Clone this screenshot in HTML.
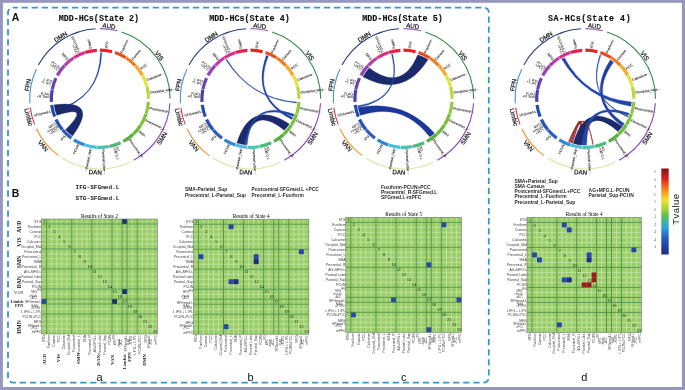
<!DOCTYPE html><html><head><meta charset="utf-8"><style>
html,body{margin:0;padding:0;background:#fff;}
svg{display:block;will-change:transform}
text{font-family:"Liberation Sans",sans-serif;}
.net{font-size:6.2px;fill:#1a1a1a;text-anchor:middle;stroke:#1a1a1a;stroke-width:0.22px}
.reg{font-size:3.7px;fill:#000;}
.ttl{font-family:"Liberation Mono",monospace;font-weight:bold;font-size:8.4px;fill:#111;stroke:#111;stroke-width:0.12px;}
.big{font-weight:bold;font-size:10.5px;fill:#111;}
.pair{font-family:"Liberation Mono",monospace;font-weight:bold;font-size:6.1px;fill:#222;}
.pr{font-size:4.9px;fill:#2a2a2a;font-weight:bold}
.ht{font-family:"Liberation Serif",serif;font-size:5.25px;fill:#000;}
.num{font-family:"Liberation Serif",serif;font-size:4.6px;fill:#1d2f1d;}
.rl{font-size:3.4px;fill:#3a3a3a;}
.nl{font-family:"Liberation Serif",serif;font-weight:bold;font-size:5.6px;fill:#222;}
.pl{font-family:"Liberation Sans",sans-serif;font-size:11px;fill:#111;}
</style></head><body>
<svg width="685" height="390" viewBox="0 0 685 390">
<rect x="0" y="0" width="685" height="390" fill="#9696be"/>
<rect x="2.9" y="2.8" width="679.0" height="384.2" fill="#ffffff"/>
<rect x="8" y="7.6" width="480.8" height="375" rx="5" ry="5" fill="none" stroke="#3c96c9" stroke-width="1.8" stroke-dasharray="6.3 3.78" stroke-dashoffset="1.5"/>
<text x="11.8" y="21.3" class="big">A</text>
<text x="11.8" y="196.8" class="big">B</text>

<text x="98.90" y="20.6" class="ttl" text-anchor="middle">MDD-HCs(State 2)</text>
<text x="249.50" y="20.6" class="ttl" text-anchor="middle">MDD-HCs(State 4)</text>
<text x="402.50" y="20.6" class="ttl" text-anchor="middle">MDD-HCs(State 5)</text>
<text x="548" y="20.6" class="ttl" style="letter-spacing:0.52px">SA-HCs(State 4)</text>
<g><path d="M99.90,28.60 A70.20,70.20 0 0 1 117.36,30.81" fill="none" stroke="#9b59b6" stroke-width="1.1"/><text x="108.82" y="28.16" transform="rotate(7.20 108.82 28.16)" class="net">AUD</text><path d="M121.59,32.04 A70.20,70.20 0 0 1 170.10,98.80" fill="none" stroke="#2e8b45" stroke-width="1.1"/><text x="157.50" y="56.95" transform="rotate(54.00 157.50 56.95)" class="net">VIS</text><path d="M169.96,103.21 A70.20,70.20 0 0 1 133.72,160.32" fill="none" stroke="#8a48c0" stroke-width="1.1"/><text x="163.90" y="139.42" transform="rotate(-57.60 163.90 139.42)" class="net">SMN</text><path d="M129.79,162.32 A70.20,70.20 0 0 1 62.28,158.07" fill="none" stroke="#d6e8a0" stroke-width="1.1"/><text x="95.14" y="174.45" transform="rotate(3.60 95.14 174.45)" class="net">DAN</text><path d="M58.64,155.59 A70.20,70.20 0 0 1 36.38,128.69" fill="none" stroke="#f0902c" stroke-width="1.1"/><text x="41.50" y="147.12" transform="rotate(50.40 41.50 147.12)" class="net">VAN</text><path d="M34.63,124.64 A70.20,70.20 0 0 1 30.25,107.60" fill="none" stroke="#d23a4a" stroke-width="1.1"/><text x="26.48" y="117.65" transform="rotate(75.60 26.48 117.65)" class="net">Limbic</text><path d="M29.84,103.21 A70.20,70.20 0 0 1 36.38,68.91" fill="none" stroke="#4a94d2" stroke-width="1.1"/><text x="29.96" y="85.46" transform="rotate(-79.20 29.96 85.46)" class="net">FPN</text><path d="M38.38,64.98 A70.20,70.20 0 0 1 95.49,28.74" fill="none" stroke="#273c82" stroke-width="1.1"/><text x="61.75" y="38.68" transform="rotate(-32.40 61.75 38.68)" class="net">DMN</text><path d="M99.90,50.20 A48.60,48.60 0 0 1 111.99,51.73" fill="none" stroke="#e62222" stroke-width="3.20"/><path d="M114.92,52.58 A48.60,48.60 0 0 1 125.94,57.77" fill="none" stroke="#e94b1d" stroke-width="3.20"/><path d="M125.94,57.77 A48.60,48.60 0 0 1 135.33,65.53" fill="none" stroke="#f07b1f" stroke-width="3.20"/><path d="M135.33,65.53 A48.60,48.60 0 0 1 142.49,75.39" fill="none" stroke="#f5a92a" stroke-width="3.20"/><path d="M142.49,75.39 A48.60,48.60 0 0 1 146.97,86.71" fill="none" stroke="#e4e23c" stroke-width="3.20"/><path d="M146.97,86.71 A48.60,48.60 0 0 1 148.50,98.80" fill="none" stroke="#b9d83e" stroke-width="3.20"/><path d="M148.40,101.85 A48.60,48.60 0 0 1 146.12,113.82" fill="none" stroke="#8ec93f" stroke-width="3.20"/><path d="M146.12,113.82 A48.60,48.60 0 0 1 140.93,124.84" fill="none" stroke="#79c234" stroke-width="3.20"/><path d="M140.93,124.84 A48.60,48.60 0 0 1 133.17,134.23" fill="none" stroke="#69bb35" stroke-width="3.20"/><path d="M133.17,134.23 A48.60,48.60 0 0 1 123.31,141.39" fill="none" stroke="#58b13f" stroke-width="3.20"/><path d="M120.59,142.77 A48.60,48.60 0 0 1 109.01,146.54" fill="none" stroke="#4dba7c" stroke-width="3.20"/><path d="M109.01,146.54 A48.60,48.60 0 0 1 96.85,147.30" fill="none" stroke="#4dc2b2" stroke-width="3.20"/><path d="M96.85,147.30 A48.60,48.60 0 0 1 84.88,145.02" fill="none" stroke="#45bee0" stroke-width="3.20"/><path d="M84.88,145.02 A48.60,48.60 0 0 1 73.86,139.83" fill="none" stroke="#2f87d3" stroke-width="3.20"/><path d="M71.33,138.12 A48.60,48.60 0 0 1 62.45,129.78" fill="none" stroke="#2b5dbd" stroke-width="3.20"/><path d="M62.45,129.78 A48.60,48.60 0 0 1 55.93,119.49" fill="none" stroke="#2951b5" stroke-width="3.20"/><path d="M54.71,116.69 A48.60,48.60 0 0 1 51.68,104.89" fill="none" stroke="#2649b0" stroke-width="3.20"/><path d="M51.40,101.85 A48.60,48.60 0 0 1 52.16,89.69" fill="none" stroke="#4a40ac" stroke-width="3.20"/><path d="M52.16,89.69 A48.60,48.60 0 0 1 55.93,78.11" fill="none" stroke="#6c42b2" stroke-width="3.20"/><path d="M57.31,75.39 A48.60,48.60 0 0 1 64.47,65.53" fill="none" stroke="#9542b5" stroke-width="3.20"/><path d="M64.47,65.53 A48.60,48.60 0 0 1 73.86,57.77" fill="none" stroke="#bb3ca8" stroke-width="3.20"/><path d="M73.86,57.77 A48.60,48.60 0 0 1 84.88,52.58" fill="none" stroke="#da2b8a" stroke-width="3.20"/><path d="M84.88,52.58 A48.60,48.60 0 0 1 96.85,50.30" fill="none" stroke="#e71f4c" stroke-width="3.20"/><line x1="124.92" y1="59.37" x2="126.96" y2="56.16" stroke="#fff" stroke-width="0.45" stroke-opacity="0.8"/><line x1="133.94" y1="66.83" x2="136.71" y2="64.23" stroke="#fff" stroke-width="0.45" stroke-opacity="0.8"/><line x1="140.82" y1="76.30" x2="144.15" y2="74.47" stroke="#fff" stroke-width="0.45" stroke-opacity="0.8"/><line x1="145.13" y1="87.19" x2="148.81" y2="86.24" stroke="#fff" stroke-width="0.45" stroke-opacity="0.8"/><line x1="144.31" y1="113.23" x2="147.93" y2="114.41" stroke="#fff" stroke-width="0.45" stroke-opacity="0.8"/><line x1="139.33" y1="123.82" x2="142.54" y2="125.86" stroke="#fff" stroke-width="0.45" stroke-opacity="0.8"/><line x1="131.87" y1="132.84" x2="134.47" y2="135.61" stroke="#fff" stroke-width="0.45" stroke-opacity="0.8"/><line x1="108.65" y1="144.67" x2="109.36" y2="148.41" stroke="#fff" stroke-width="0.45" stroke-opacity="0.8"/><line x1="96.97" y1="145.41" x2="96.73" y2="149.20" stroke="#fff" stroke-width="0.45" stroke-opacity="0.8"/><line x1="85.47" y1="143.21" x2="84.29" y2="146.83" stroke="#fff" stroke-width="0.45" stroke-opacity="0.8"/><line x1="63.92" y1="128.57" x2="60.99" y2="130.99" stroke="#fff" stroke-width="0.45" stroke-opacity="0.8"/><line x1="54.03" y1="90.05" x2="50.29" y2="89.34" stroke="#fff" stroke-width="0.45" stroke-opacity="0.8"/><line x1="65.86" y1="66.83" x2="63.09" y2="64.23" stroke="#fff" stroke-width="0.45" stroke-opacity="0.8"/><line x1="74.88" y1="59.37" x2="72.84" y2="56.16" stroke="#fff" stroke-width="0.45" stroke-opacity="0.8"/><line x1="85.47" y1="54.39" x2="84.29" y2="50.77" stroke="#fff" stroke-width="0.45" stroke-opacity="0.8"/><line x1="106.25" y1="48.50" x2="107.09" y2="41.90" stroke="#777" stroke-width="0.35"/><text x="106.23" y="48.70" dy="1.20" transform="rotate(-82.80 106.23 48.70)" text-anchor="start" class="reg">STG</text><line x1="121.49" y1="52.93" x2="128.26" y2="38.54" stroke="#777" stroke-width="0.35"/><text x="121.40" y="53.11" dy="1.20" transform="rotate(-64.80 121.40 53.11)" text-anchor="start" class="reg">Fusiform</text><line x1="132.22" y1="59.73" x2="139.99" y2="50.33" stroke="#777" stroke-width="0.35"/><text x="132.09" y="59.89" dy="1.20" transform="rotate(-50.40 132.09 59.89)" text-anchor="start" class="reg">Cuneus</text><line x1="140.92" y1="69.00" x2="146.30" y2="65.09" stroke="#777" stroke-width="0.35"/><text x="140.76" y="69.12" dy="1.20" transform="rotate(-36.00 140.76 69.12)" text-anchor="start" class="reg">PCC</text><line x1="147.04" y1="80.14" x2="163.54" y2="73.60" stroke="#777" stroke-width="0.35"/><text x="146.85" y="80.21" dy="1.20" transform="rotate(-21.60 146.85 80.21)" text-anchor="start" class="reg">Calcarine</text><line x1="150.20" y1="92.45" x2="175.15" y2="89.29" stroke="#777" stroke-width="0.35"/><text x="150.00" y="92.47" dy="1.20" transform="rotate(-7.20 150.00 92.47)" text-anchor="start" class="reg">Occipital_Mid</text><line x1="149.70" y1="108.30" x2="170.77" y2="112.32" stroke="#777" stroke-width="0.35"/><text x="149.51" y="108.26" dy="1.20" transform="rotate(10.80 149.51 108.26)" text-anchor="start" class="reg">Postcentral</text><line x1="145.77" y1="120.39" x2="166.86" y2="130.31" stroke="#777" stroke-width="0.35"/><text x="145.59" y="120.30" dy="1.20" transform="rotate(25.20 145.59 120.30)" text-anchor="start" class="reg">Precentral_L</text><line x1="138.97" y1="131.12" x2="144.09" y2="135.36" stroke="#777" stroke-width="0.35"/><text x="138.81" y="130.99" dy="1.20" transform="rotate(39.60 138.81 130.99)" text-anchor="start" class="reg">SMA</text><line x1="129.70" y1="139.82" x2="143.40" y2="158.67" stroke="#777" stroke-width="0.35"/><text x="129.58" y="139.66" dy="1.20" transform="rotate(54.00 129.58 139.66)" text-anchor="start" class="reg">Precentral_R</text><text x="115.51" y="146.83" dy="-0.25" transform="rotate(72.00 115.51 146.83)" text-anchor="start" class="reg">AG</text><text x="115.51" y="146.83" dy="2.65" transform="rotate(72.00 115.51 146.83)" text-anchor="start" class="reg">+MFG.L</text><line x1="103.08" y1="149.40" x2="104.66" y2="174.50" stroke="#777" stroke-width="0.35"/><text x="103.07" y="149.20" dy="1.20" transform="rotate(86.40 103.07 149.20)" text-anchor="start" class="reg">Parietal Lobe</text><line x1="90.40" y1="148.60" x2="86.03" y2="171.49" stroke="#777" stroke-width="0.35"/><text x="90.44" y="148.41" dy="1.20" transform="rotate(-79.20 90.44 148.41)" text-anchor="end" class="reg">Parietal_Sup</text><line x1="78.31" y1="144.67" x2="74.69" y2="152.37" stroke="#777" stroke-width="0.35"/><text x="78.40" y="144.49" dy="1.20" transform="rotate(-64.80 78.40 144.49)" text-anchor="end" class="reg">PCUN</text><line x1="65.19" y1="135.76" x2="60.64" y2="140.61" stroke="#777" stroke-width="0.35"/><text x="65.33" y="135.61" dy="1.20" transform="rotate(-46.80 65.33 135.61)" text-anchor="end" class="reg">IFG</text><text x="57.26" y="125.86" dy="-1.70" transform="rotate(-32.40 57.26 125.86)" text-anchor="end" class="reg">MFG</text><text x="57.26" y="125.86" dy="1.20" transform="rotate(-32.40 57.26 125.86)" text-anchor="end" class="reg">+Insula</text><text x="57.26" y="125.86" dy="4.10" transform="rotate(-32.40 57.26 125.86)" text-anchor="end" class="reg">+ACC</text><line x1="50.79" y1="111.41" x2="35.39" y2="115.36" stroke="#777" stroke-width="0.35"/><text x="50.99" y="111.36" dy="1.20" transform="rotate(-14.40 50.99 111.36)" text-anchor="end" class="reg">SFGmed.L</text><text x="49.50" y="95.63" dy="-0.25" transform="rotate(3.60 49.50 95.63)" text-anchor="end" class="reg">R AG</text><text x="49.50" y="95.63" dy="2.65" transform="rotate(3.60 49.50 95.63)" text-anchor="end" class="reg">+R Tem</text><text x="51.87" y="83.19" dy="-0.25" transform="rotate(18.00 51.87 83.19)" text-anchor="end" class="reg">L IFG</text><text x="51.87" y="83.19" dy="2.65" transform="rotate(18.00 51.87 83.19)" text-anchor="end" class="reg">+L IPL</text><text x="59.04" y="69.12" dy="-0.25" transform="rotate(36.00 59.04 69.12)" text-anchor="end" class="reg">PCUN</text><text x="59.04" y="69.12" dy="2.65" transform="rotate(36.00 59.04 69.12)" text-anchor="end" class="reg">+PCC</text><line x1="67.58" y1="59.73" x2="63.34" y2="54.61" stroke="#777" stroke-width="0.35"/><text x="67.71" y="59.89" dy="1.20" transform="rotate(50.40 67.71 59.89)" text-anchor="end" class="reg">MFG</text><text x="78.40" y="53.11" dy="-0.25" transform="rotate(64.80 78.40 53.11)" text-anchor="end" class="reg">SFGmed.L</text><text x="78.40" y="53.11" dy="2.65" transform="rotate(64.80 78.40 53.11)" text-anchor="end" class="reg">+PCC</text><line x1="90.40" y1="49.00" x2="88.81" y2="40.65" stroke="#777" stroke-width="0.35"/><text x="90.44" y="49.19" dy="1.20" transform="rotate(79.20 90.44 49.19)" text-anchor="end" class="reg">mPFC</text><path d="M55.27,110.76 A46.2,46.2 0 0 1 55.03,109.82 Q99.55,98.52 100.55,52.60 A46.2,46.2 0 0 1 101.83,52.64 Q99.90,98.80 55.27,110.76Z" fill="#2242a2" stroke="#2242a2" stroke-width="0.35" fill-opacity="1"/><path d="M56.77,115.36 A46.2,46.2 0 0 1 54.10,104.83 Q99.90,98.80 72.48,135.99 A46.2,46.2 0 0 1 65.57,129.71 Q92.03,103.62 56.77,115.36Z" fill="#1b2a6c" stroke="#1b2a6c" stroke-width="0.35" fill-opacity="1"/></g>
<g><path d="M250.50,28.60 A70.20,70.20 0 0 1 267.96,30.81" fill="none" stroke="#9b59b6" stroke-width="1.1"/><text x="259.42" y="28.16" transform="rotate(7.20 259.42 28.16)" class="net">AUD</text><path d="M272.19,32.04 A70.20,70.20 0 0 1 320.70,98.80" fill="none" stroke="#2e8b45" stroke-width="1.1"/><text x="308.10" y="56.95" transform="rotate(54.00 308.10 56.95)" class="net">VIS</text><path d="M320.56,103.21 A70.20,70.20 0 0 1 284.32,160.32" fill="none" stroke="#8a48c0" stroke-width="1.1"/><text x="314.50" y="139.42" transform="rotate(-57.60 314.50 139.42)" class="net">SMN</text><path d="M280.39,162.32 A70.20,70.20 0 0 1 212.88,158.07" fill="none" stroke="#d6e8a0" stroke-width="1.1"/><text x="245.74" y="174.45" transform="rotate(3.60 245.74 174.45)" class="net">DAN</text><path d="M209.24,155.59 A70.20,70.20 0 0 1 186.98,128.69" fill="none" stroke="#f0902c" stroke-width="1.1"/><text x="192.10" y="147.12" transform="rotate(50.40 192.10 147.12)" class="net">VAN</text><path d="M185.23,124.64 A70.20,70.20 0 0 1 180.85,107.60" fill="none" stroke="#d23a4a" stroke-width="1.1"/><text x="177.08" y="117.65" transform="rotate(75.60 177.08 117.65)" class="net">Limbic</text><path d="M180.44,103.21 A70.20,70.20 0 0 1 186.98,68.91" fill="none" stroke="#4a94d2" stroke-width="1.1"/><text x="180.56" y="85.46" transform="rotate(-79.20 180.56 85.46)" class="net">FPN</text><path d="M188.98,64.98 A70.20,70.20 0 0 1 246.09,28.74" fill="none" stroke="#273c82" stroke-width="1.1"/><text x="212.35" y="38.68" transform="rotate(-32.40 212.35 38.68)" class="net">DMN</text><path d="M250.50,50.20 A48.60,48.60 0 0 1 262.59,51.73" fill="none" stroke="#e62222" stroke-width="3.20"/><path d="M265.52,52.58 A48.60,48.60 0 0 1 276.54,57.77" fill="none" stroke="#e94b1d" stroke-width="3.20"/><path d="M276.54,57.77 A48.60,48.60 0 0 1 285.93,65.53" fill="none" stroke="#f07b1f" stroke-width="3.20"/><path d="M285.93,65.53 A48.60,48.60 0 0 1 293.09,75.39" fill="none" stroke="#f5a92a" stroke-width="3.20"/><path d="M293.09,75.39 A48.60,48.60 0 0 1 297.57,86.71" fill="none" stroke="#e4e23c" stroke-width="3.20"/><path d="M297.57,86.71 A48.60,48.60 0 0 1 299.10,98.80" fill="none" stroke="#b9d83e" stroke-width="3.20"/><path d="M299.00,101.85 A48.60,48.60 0 0 1 296.72,113.82" fill="none" stroke="#8ec93f" stroke-width="3.20"/><path d="M296.72,113.82 A48.60,48.60 0 0 1 291.53,124.84" fill="none" stroke="#79c234" stroke-width="3.20"/><path d="M291.53,124.84 A48.60,48.60 0 0 1 283.77,134.23" fill="none" stroke="#69bb35" stroke-width="3.20"/><path d="M283.77,134.23 A48.60,48.60 0 0 1 273.91,141.39" fill="none" stroke="#58b13f" stroke-width="3.20"/><path d="M271.19,142.77 A48.60,48.60 0 0 1 259.61,146.54" fill="none" stroke="#4dba7c" stroke-width="3.20"/><path d="M259.61,146.54 A48.60,48.60 0 0 1 247.45,147.30" fill="none" stroke="#4dc2b2" stroke-width="3.20"/><path d="M247.45,147.30 A48.60,48.60 0 0 1 235.48,145.02" fill="none" stroke="#45bee0" stroke-width="3.20"/><path d="M235.48,145.02 A48.60,48.60 0 0 1 224.46,139.83" fill="none" stroke="#2f87d3" stroke-width="3.20"/><path d="M221.93,138.12 A48.60,48.60 0 0 1 213.05,129.78" fill="none" stroke="#2b5dbd" stroke-width="3.20"/><path d="M213.05,129.78 A48.60,48.60 0 0 1 206.53,119.49" fill="none" stroke="#2951b5" stroke-width="3.20"/><path d="M205.31,116.69 A48.60,48.60 0 0 1 202.28,104.89" fill="none" stroke="#2649b0" stroke-width="3.20"/><path d="M202.00,101.85 A48.60,48.60 0 0 1 202.76,89.69" fill="none" stroke="#4a40ac" stroke-width="3.20"/><path d="M202.76,89.69 A48.60,48.60 0 0 1 206.53,78.11" fill="none" stroke="#6c42b2" stroke-width="3.20"/><path d="M207.91,75.39 A48.60,48.60 0 0 1 215.07,65.53" fill="none" stroke="#9542b5" stroke-width="3.20"/><path d="M215.07,65.53 A48.60,48.60 0 0 1 224.46,57.77" fill="none" stroke="#bb3ca8" stroke-width="3.20"/><path d="M224.46,57.77 A48.60,48.60 0 0 1 235.48,52.58" fill="none" stroke="#da2b8a" stroke-width="3.20"/><path d="M235.48,52.58 A48.60,48.60 0 0 1 247.45,50.30" fill="none" stroke="#e71f4c" stroke-width="3.20"/><line x1="275.52" y1="59.37" x2="277.56" y2="56.16" stroke="#fff" stroke-width="0.45" stroke-opacity="0.8"/><line x1="284.54" y1="66.83" x2="287.31" y2="64.23" stroke="#fff" stroke-width="0.45" stroke-opacity="0.8"/><line x1="291.42" y1="76.30" x2="294.75" y2="74.47" stroke="#fff" stroke-width="0.45" stroke-opacity="0.8"/><line x1="295.73" y1="87.19" x2="299.41" y2="86.24" stroke="#fff" stroke-width="0.45" stroke-opacity="0.8"/><line x1="294.91" y1="113.23" x2="298.53" y2="114.41" stroke="#fff" stroke-width="0.45" stroke-opacity="0.8"/><line x1="289.93" y1="123.82" x2="293.14" y2="125.86" stroke="#fff" stroke-width="0.45" stroke-opacity="0.8"/><line x1="282.47" y1="132.84" x2="285.07" y2="135.61" stroke="#fff" stroke-width="0.45" stroke-opacity="0.8"/><line x1="259.25" y1="144.67" x2="259.96" y2="148.41" stroke="#fff" stroke-width="0.45" stroke-opacity="0.8"/><line x1="247.57" y1="145.41" x2="247.33" y2="149.20" stroke="#fff" stroke-width="0.45" stroke-opacity="0.8"/><line x1="236.07" y1="143.21" x2="234.89" y2="146.83" stroke="#fff" stroke-width="0.45" stroke-opacity="0.8"/><line x1="214.52" y1="128.57" x2="211.59" y2="130.99" stroke="#fff" stroke-width="0.45" stroke-opacity="0.8"/><line x1="204.63" y1="90.05" x2="200.89" y2="89.34" stroke="#fff" stroke-width="0.45" stroke-opacity="0.8"/><line x1="216.46" y1="66.83" x2="213.69" y2="64.23" stroke="#fff" stroke-width="0.45" stroke-opacity="0.8"/><line x1="225.48" y1="59.37" x2="223.44" y2="56.16" stroke="#fff" stroke-width="0.45" stroke-opacity="0.8"/><line x1="236.07" y1="54.39" x2="234.89" y2="50.77" stroke="#fff" stroke-width="0.45" stroke-opacity="0.8"/><line x1="256.85" y1="48.50" x2="257.69" y2="41.90" stroke="#777" stroke-width="0.35"/><text x="256.83" y="48.70" dy="1.20" transform="rotate(-82.80 256.83 48.70)" text-anchor="start" class="reg">STG</text><line x1="272.09" y1="52.93" x2="278.86" y2="38.54" stroke="#777" stroke-width="0.35"/><text x="272.00" y="53.11" dy="1.20" transform="rotate(-64.80 272.00 53.11)" text-anchor="start" class="reg">Fusiform</text><line x1="282.82" y1="59.73" x2="290.59" y2="50.33" stroke="#777" stroke-width="0.35"/><text x="282.69" y="59.89" dy="1.20" transform="rotate(-50.40 282.69 59.89)" text-anchor="start" class="reg">Cuneus</text><line x1="291.52" y1="69.00" x2="296.90" y2="65.09" stroke="#777" stroke-width="0.35"/><text x="291.36" y="69.12" dy="1.20" transform="rotate(-36.00 291.36 69.12)" text-anchor="start" class="reg">PCC</text><line x1="297.64" y1="80.14" x2="314.14" y2="73.60" stroke="#777" stroke-width="0.35"/><text x="297.45" y="80.21" dy="1.20" transform="rotate(-21.60 297.45 80.21)" text-anchor="start" class="reg">Calcarine</text><line x1="300.80" y1="92.45" x2="325.75" y2="89.29" stroke="#777" stroke-width="0.35"/><text x="300.60" y="92.47" dy="1.20" transform="rotate(-7.20 300.60 92.47)" text-anchor="start" class="reg">Occipital_Mid</text><line x1="300.30" y1="108.30" x2="321.37" y2="112.32" stroke="#777" stroke-width="0.35"/><text x="300.11" y="108.26" dy="1.20" transform="rotate(10.80 300.11 108.26)" text-anchor="start" class="reg">Postcentral</text><line x1="296.37" y1="120.39" x2="317.46" y2="130.31" stroke="#777" stroke-width="0.35"/><text x="296.19" y="120.30" dy="1.20" transform="rotate(25.20 296.19 120.30)" text-anchor="start" class="reg">Precentral_L</text><line x1="289.57" y1="131.12" x2="294.69" y2="135.36" stroke="#777" stroke-width="0.35"/><text x="289.41" y="130.99" dy="1.20" transform="rotate(39.60 289.41 130.99)" text-anchor="start" class="reg">SMA</text><line x1="280.30" y1="139.82" x2="294.00" y2="158.67" stroke="#777" stroke-width="0.35"/><text x="280.18" y="139.66" dy="1.20" transform="rotate(54.00 280.18 139.66)" text-anchor="start" class="reg">Precentral_R</text><text x="266.11" y="146.83" dy="-0.25" transform="rotate(72.00 266.11 146.83)" text-anchor="start" class="reg">AG</text><text x="266.11" y="146.83" dy="2.65" transform="rotate(72.00 266.11 146.83)" text-anchor="start" class="reg">+MFG.L</text><line x1="253.68" y1="149.40" x2="255.26" y2="174.50" stroke="#777" stroke-width="0.35"/><text x="253.67" y="149.20" dy="1.20" transform="rotate(86.40 253.67 149.20)" text-anchor="start" class="reg">Parietal Lobe</text><line x1="241.00" y1="148.60" x2="236.63" y2="171.49" stroke="#777" stroke-width="0.35"/><text x="241.04" y="148.41" dy="1.20" transform="rotate(-79.20 241.04 148.41)" text-anchor="end" class="reg">Parietal_Sup</text><line x1="228.91" y1="144.67" x2="225.29" y2="152.37" stroke="#777" stroke-width="0.35"/><text x="229.00" y="144.49" dy="1.20" transform="rotate(-64.80 229.00 144.49)" text-anchor="end" class="reg">PCUN</text><line x1="215.79" y1="135.76" x2="211.24" y2="140.61" stroke="#777" stroke-width="0.35"/><text x="215.93" y="135.61" dy="1.20" transform="rotate(-46.80 215.93 135.61)" text-anchor="end" class="reg">IFG</text><text x="207.86" y="125.86" dy="-1.70" transform="rotate(-32.40 207.86 125.86)" text-anchor="end" class="reg">MFG</text><text x="207.86" y="125.86" dy="1.20" transform="rotate(-32.40 207.86 125.86)" text-anchor="end" class="reg">+Insula</text><text x="207.86" y="125.86" dy="4.10" transform="rotate(-32.40 207.86 125.86)" text-anchor="end" class="reg">+ACC</text><line x1="201.39" y1="111.41" x2="185.99" y2="115.36" stroke="#777" stroke-width="0.35"/><text x="201.59" y="111.36" dy="1.20" transform="rotate(-14.40 201.59 111.36)" text-anchor="end" class="reg">SFGmed.L</text><text x="200.10" y="95.63" dy="-0.25" transform="rotate(3.60 200.10 95.63)" text-anchor="end" class="reg">R AG</text><text x="200.10" y="95.63" dy="2.65" transform="rotate(3.60 200.10 95.63)" text-anchor="end" class="reg">+R Tem</text><text x="202.47" y="83.19" dy="-0.25" transform="rotate(18.00 202.47 83.19)" text-anchor="end" class="reg">L IFG</text><text x="202.47" y="83.19" dy="2.65" transform="rotate(18.00 202.47 83.19)" text-anchor="end" class="reg">+L IPL</text><text x="209.64" y="69.12" dy="-0.25" transform="rotate(36.00 209.64 69.12)" text-anchor="end" class="reg">PCUN</text><text x="209.64" y="69.12" dy="2.65" transform="rotate(36.00 209.64 69.12)" text-anchor="end" class="reg">+PCC</text><line x1="218.18" y1="59.73" x2="213.94" y2="54.61" stroke="#777" stroke-width="0.35"/><text x="218.31" y="59.89" dy="1.20" transform="rotate(50.40 218.31 59.89)" text-anchor="end" class="reg">MFG</text><text x="229.00" y="53.11" dy="-0.25" transform="rotate(64.80 229.00 53.11)" text-anchor="end" class="reg">SFGmed.L</text><text x="229.00" y="53.11" dy="2.65" transform="rotate(64.80 229.00 53.11)" text-anchor="end" class="reg">+PCC</text><line x1="241.00" y1="49.00" x2="239.41" y2="40.65" stroke="#777" stroke-width="0.35"/><text x="241.04" y="49.19" dy="1.20" transform="rotate(79.20 241.04 49.19)" text-anchor="end" class="reg">mPFC</text><path d="M225.88,59.71 A46.2,46.2 0 0 1 226.71,59.20 Q250.66,98.54 296.59,102.02 A46.2,46.2 0 0 1 296.50,103.07 Q250.50,98.80 225.88,59.71Z" fill="#2242a2" stroke="#2242a2" stroke-width="0.35" fill-opacity="1"/><path d="M266.30,55.39 A46.2,46.2 0 0 1 268.25,56.15 Q251.71,98.32 292.71,117.59 A46.2,46.2 0 0 1 291.85,119.41 Q250.50,98.80 266.30,55.39Z" fill="#2242a2" stroke="#2242a2" stroke-width="0.35" fill-opacity="1"/><path d="M244.87,144.66 A46.2,46.2 0 0 1 236.84,142.93 Q250.50,98.80 289.25,123.96 A46.2,46.2 0 0 1 284.29,130.31 Q252.37,103.93 244.87,144.66Z" fill="#1b2a6c" stroke="#1b2a6c" stroke-width="0.35" fill-opacity="1"/><path d="M247.04,144.87 A46.2,46.2 0 0 1 245.03,144.68 Q250.50,98.80 294.05,114.22 A46.2,46.2 0 0 1 293.18,116.48 Q251.19,99.92 247.04,144.87Z" fill="#2446a8" stroke="#2446a8" stroke-width="0.35" fill-opacity="1"/></g>
<g><path d="M403.50,28.60 A70.20,70.20 0 0 1 420.96,30.81" fill="none" stroke="#9b59b6" stroke-width="1.1"/><text x="412.42" y="28.16" transform="rotate(7.20 412.42 28.16)" class="net">AUD</text><path d="M425.19,32.04 A70.20,70.20 0 0 1 473.70,98.80" fill="none" stroke="#2e8b45" stroke-width="1.1"/><text x="461.10" y="56.95" transform="rotate(54.00 461.10 56.95)" class="net">VIS</text><path d="M473.56,103.21 A70.20,70.20 0 0 1 437.32,160.32" fill="none" stroke="#8a48c0" stroke-width="1.1"/><text x="467.50" y="139.42" transform="rotate(-57.60 467.50 139.42)" class="net">SMN</text><path d="M433.39,162.32 A70.20,70.20 0 0 1 365.88,158.07" fill="none" stroke="#d6e8a0" stroke-width="1.1"/><text x="398.74" y="174.45" transform="rotate(3.60 398.74 174.45)" class="net">DAN</text><path d="M362.24,155.59 A70.20,70.20 0 0 1 339.98,128.69" fill="none" stroke="#f0902c" stroke-width="1.1"/><text x="345.10" y="147.12" transform="rotate(50.40 345.10 147.12)" class="net">VAN</text><path d="M338.23,124.64 A70.20,70.20 0 0 1 333.85,107.60" fill="none" stroke="#d23a4a" stroke-width="1.1"/><text x="330.08" y="117.65" transform="rotate(75.60 330.08 117.65)" class="net">Limbic</text><path d="M333.44,103.21 A70.20,70.20 0 0 1 339.98,68.91" fill="none" stroke="#4a94d2" stroke-width="1.1"/><text x="333.56" y="85.46" transform="rotate(-79.20 333.56 85.46)" class="net">FPN</text><path d="M341.98,64.98 A70.20,70.20 0 0 1 399.09,28.74" fill="none" stroke="#273c82" stroke-width="1.1"/><text x="365.35" y="38.68" transform="rotate(-32.40 365.35 38.68)" class="net">DMN</text><path d="M403.50,50.20 A48.60,48.60 0 0 1 415.59,51.73" fill="none" stroke="#e62222" stroke-width="3.20"/><path d="M418.52,52.58 A48.60,48.60 0 0 1 429.54,57.77" fill="none" stroke="#e94b1d" stroke-width="3.20"/><path d="M429.54,57.77 A48.60,48.60 0 0 1 438.93,65.53" fill="none" stroke="#f07b1f" stroke-width="3.20"/><path d="M438.93,65.53 A48.60,48.60 0 0 1 446.09,75.39" fill="none" stroke="#f5a92a" stroke-width="3.20"/><path d="M446.09,75.39 A48.60,48.60 0 0 1 450.57,86.71" fill="none" stroke="#e4e23c" stroke-width="3.20"/><path d="M450.57,86.71 A48.60,48.60 0 0 1 452.10,98.80" fill="none" stroke="#b9d83e" stroke-width="3.20"/><path d="M452.00,101.85 A48.60,48.60 0 0 1 449.72,113.82" fill="none" stroke="#8ec93f" stroke-width="3.20"/><path d="M449.72,113.82 A48.60,48.60 0 0 1 444.53,124.84" fill="none" stroke="#79c234" stroke-width="3.20"/><path d="M444.53,124.84 A48.60,48.60 0 0 1 436.77,134.23" fill="none" stroke="#69bb35" stroke-width="3.20"/><path d="M436.77,134.23 A48.60,48.60 0 0 1 426.91,141.39" fill="none" stroke="#58b13f" stroke-width="3.20"/><path d="M424.19,142.77 A48.60,48.60 0 0 1 412.61,146.54" fill="none" stroke="#4dba7c" stroke-width="3.20"/><path d="M412.61,146.54 A48.60,48.60 0 0 1 400.45,147.30" fill="none" stroke="#4dc2b2" stroke-width="3.20"/><path d="M400.45,147.30 A48.60,48.60 0 0 1 388.48,145.02" fill="none" stroke="#45bee0" stroke-width="3.20"/><path d="M388.48,145.02 A48.60,48.60 0 0 1 377.46,139.83" fill="none" stroke="#2f87d3" stroke-width="3.20"/><path d="M374.93,138.12 A48.60,48.60 0 0 1 366.05,129.78" fill="none" stroke="#2b5dbd" stroke-width="3.20"/><path d="M366.05,129.78 A48.60,48.60 0 0 1 359.53,119.49" fill="none" stroke="#2951b5" stroke-width="3.20"/><path d="M358.31,116.69 A48.60,48.60 0 0 1 355.28,104.89" fill="none" stroke="#2649b0" stroke-width="3.20"/><path d="M355.00,101.85 A48.60,48.60 0 0 1 355.76,89.69" fill="none" stroke="#4a40ac" stroke-width="3.20"/><path d="M355.76,89.69 A48.60,48.60 0 0 1 359.53,78.11" fill="none" stroke="#6c42b2" stroke-width="3.20"/><path d="M360.91,75.39 A48.60,48.60 0 0 1 368.07,65.53" fill="none" stroke="#9542b5" stroke-width="3.20"/><path d="M368.07,65.53 A48.60,48.60 0 0 1 377.46,57.77" fill="none" stroke="#bb3ca8" stroke-width="3.20"/><path d="M377.46,57.77 A48.60,48.60 0 0 1 388.48,52.58" fill="none" stroke="#da2b8a" stroke-width="3.20"/><path d="M388.48,52.58 A48.60,48.60 0 0 1 400.45,50.30" fill="none" stroke="#e71f4c" stroke-width="3.20"/><line x1="428.52" y1="59.37" x2="430.56" y2="56.16" stroke="#fff" stroke-width="0.45" stroke-opacity="0.8"/><line x1="437.54" y1="66.83" x2="440.31" y2="64.23" stroke="#fff" stroke-width="0.45" stroke-opacity="0.8"/><line x1="444.42" y1="76.30" x2="447.75" y2="74.47" stroke="#fff" stroke-width="0.45" stroke-opacity="0.8"/><line x1="448.73" y1="87.19" x2="452.41" y2="86.24" stroke="#fff" stroke-width="0.45" stroke-opacity="0.8"/><line x1="447.91" y1="113.23" x2="451.53" y2="114.41" stroke="#fff" stroke-width="0.45" stroke-opacity="0.8"/><line x1="442.93" y1="123.82" x2="446.14" y2="125.86" stroke="#fff" stroke-width="0.45" stroke-opacity="0.8"/><line x1="435.47" y1="132.84" x2="438.07" y2="135.61" stroke="#fff" stroke-width="0.45" stroke-opacity="0.8"/><line x1="412.25" y1="144.67" x2="412.96" y2="148.41" stroke="#fff" stroke-width="0.45" stroke-opacity="0.8"/><line x1="400.57" y1="145.41" x2="400.33" y2="149.20" stroke="#fff" stroke-width="0.45" stroke-opacity="0.8"/><line x1="389.07" y1="143.21" x2="387.89" y2="146.83" stroke="#fff" stroke-width="0.45" stroke-opacity="0.8"/><line x1="367.52" y1="128.57" x2="364.59" y2="130.99" stroke="#fff" stroke-width="0.45" stroke-opacity="0.8"/><line x1="357.63" y1="90.05" x2="353.89" y2="89.34" stroke="#fff" stroke-width="0.45" stroke-opacity="0.8"/><line x1="369.46" y1="66.83" x2="366.69" y2="64.23" stroke="#fff" stroke-width="0.45" stroke-opacity="0.8"/><line x1="378.48" y1="59.37" x2="376.44" y2="56.16" stroke="#fff" stroke-width="0.45" stroke-opacity="0.8"/><line x1="389.07" y1="54.39" x2="387.89" y2="50.77" stroke="#fff" stroke-width="0.45" stroke-opacity="0.8"/><line x1="409.85" y1="48.50" x2="410.69" y2="41.90" stroke="#777" stroke-width="0.35"/><text x="409.83" y="48.70" dy="1.20" transform="rotate(-82.80 409.83 48.70)" text-anchor="start" class="reg">STG</text><line x1="425.09" y1="52.93" x2="431.86" y2="38.54" stroke="#777" stroke-width="0.35"/><text x="425.00" y="53.11" dy="1.20" transform="rotate(-64.80 425.00 53.11)" text-anchor="start" class="reg">Fusiform</text><line x1="435.82" y1="59.73" x2="443.59" y2="50.33" stroke="#777" stroke-width="0.35"/><text x="435.69" y="59.89" dy="1.20" transform="rotate(-50.40 435.69 59.89)" text-anchor="start" class="reg">Cuneus</text><line x1="444.52" y1="69.00" x2="449.90" y2="65.09" stroke="#777" stroke-width="0.35"/><text x="444.36" y="69.12" dy="1.20" transform="rotate(-36.00 444.36 69.12)" text-anchor="start" class="reg">PCC</text><line x1="450.64" y1="80.14" x2="467.14" y2="73.60" stroke="#777" stroke-width="0.35"/><text x="450.45" y="80.21" dy="1.20" transform="rotate(-21.60 450.45 80.21)" text-anchor="start" class="reg">Calcarine</text><line x1="453.80" y1="92.45" x2="478.75" y2="89.29" stroke="#777" stroke-width="0.35"/><text x="453.60" y="92.47" dy="1.20" transform="rotate(-7.20 453.60 92.47)" text-anchor="start" class="reg">Occipital_Mid</text><line x1="453.30" y1="108.30" x2="474.37" y2="112.32" stroke="#777" stroke-width="0.35"/><text x="453.11" y="108.26" dy="1.20" transform="rotate(10.80 453.11 108.26)" text-anchor="start" class="reg">Postcentral</text><line x1="449.37" y1="120.39" x2="470.46" y2="130.31" stroke="#777" stroke-width="0.35"/><text x="449.19" y="120.30" dy="1.20" transform="rotate(25.20 449.19 120.30)" text-anchor="start" class="reg">Precentral_L</text><line x1="442.57" y1="131.12" x2="447.69" y2="135.36" stroke="#777" stroke-width="0.35"/><text x="442.41" y="130.99" dy="1.20" transform="rotate(39.60 442.41 130.99)" text-anchor="start" class="reg">SMA</text><line x1="433.30" y1="139.82" x2="447.00" y2="158.67" stroke="#777" stroke-width="0.35"/><text x="433.18" y="139.66" dy="1.20" transform="rotate(54.00 433.18 139.66)" text-anchor="start" class="reg">Precentral_R</text><text x="419.11" y="146.83" dy="-0.25" transform="rotate(72.00 419.11 146.83)" text-anchor="start" class="reg">AG</text><text x="419.11" y="146.83" dy="2.65" transform="rotate(72.00 419.11 146.83)" text-anchor="start" class="reg">+MFG.L</text><line x1="406.68" y1="149.40" x2="408.26" y2="174.50" stroke="#777" stroke-width="0.35"/><text x="406.67" y="149.20" dy="1.20" transform="rotate(86.40 406.67 149.20)" text-anchor="start" class="reg">Parietal Lobe</text><line x1="394.00" y1="148.60" x2="389.63" y2="171.49" stroke="#777" stroke-width="0.35"/><text x="394.04" y="148.41" dy="1.20" transform="rotate(-79.20 394.04 148.41)" text-anchor="end" class="reg">Parietal_Sup</text><line x1="381.91" y1="144.67" x2="378.29" y2="152.37" stroke="#777" stroke-width="0.35"/><text x="382.00" y="144.49" dy="1.20" transform="rotate(-64.80 382.00 144.49)" text-anchor="end" class="reg">PCUN</text><line x1="368.79" y1="135.76" x2="364.24" y2="140.61" stroke="#777" stroke-width="0.35"/><text x="368.93" y="135.61" dy="1.20" transform="rotate(-46.80 368.93 135.61)" text-anchor="end" class="reg">IFG</text><text x="360.86" y="125.86" dy="-1.70" transform="rotate(-32.40 360.86 125.86)" text-anchor="end" class="reg">MFG</text><text x="360.86" y="125.86" dy="1.20" transform="rotate(-32.40 360.86 125.86)" text-anchor="end" class="reg">+Insula</text><text x="360.86" y="125.86" dy="4.10" transform="rotate(-32.40 360.86 125.86)" text-anchor="end" class="reg">+ACC</text><line x1="354.39" y1="111.41" x2="338.99" y2="115.36" stroke="#777" stroke-width="0.35"/><text x="354.59" y="111.36" dy="1.20" transform="rotate(-14.40 354.59 111.36)" text-anchor="end" class="reg">SFGmed.L</text><text x="353.10" y="95.63" dy="-0.25" transform="rotate(3.60 353.10 95.63)" text-anchor="end" class="reg">R AG</text><text x="353.10" y="95.63" dy="2.65" transform="rotate(3.60 353.10 95.63)" text-anchor="end" class="reg">+R Tem</text><text x="355.47" y="83.19" dy="-0.25" transform="rotate(18.00 355.47 83.19)" text-anchor="end" class="reg">L IFG</text><text x="355.47" y="83.19" dy="2.65" transform="rotate(18.00 355.47 83.19)" text-anchor="end" class="reg">+L IPL</text><text x="362.64" y="69.12" dy="-0.25" transform="rotate(36.00 362.64 69.12)" text-anchor="end" class="reg">PCUN</text><text x="362.64" y="69.12" dy="2.65" transform="rotate(36.00 362.64 69.12)" text-anchor="end" class="reg">+PCC</text><line x1="371.18" y1="59.73" x2="366.94" y2="54.61" stroke="#777" stroke-width="0.35"/><text x="371.31" y="59.89" dy="1.20" transform="rotate(50.40 371.31 59.89)" text-anchor="end" class="reg">MFG</text><text x="382.00" y="53.11" dy="-0.25" transform="rotate(64.80 382.00 53.11)" text-anchor="end" class="reg">SFGmed.L</text><text x="382.00" y="53.11" dy="2.65" transform="rotate(64.80 382.00 53.11)" text-anchor="end" class="reg">+PCC</text><line x1="394.00" y1="49.00" x2="392.41" y2="40.65" stroke="#777" stroke-width="0.35"/><text x="394.04" y="49.19" dy="1.20" transform="rotate(79.20 394.04 49.19)" text-anchor="end" class="reg">mPFC</text><path d="M362.90,76.76 A46.2,46.2 0 0 1 369.17,67.89 Q401.89,92.80 417.78,54.86 A46.2,46.2 0 0 1 427.98,59.62 Q403.50,98.80 362.90,76.76Z" fill="#1b2a6c" stroke="#1b2a6c" stroke-width="0.35" fill-opacity="1"/><path d="M358.07,107.22 A46.2,46.2 0 0 1 357.83,105.79 Q402.95,98.44 391.54,54.17 A46.2,46.2 0 0 1 392.56,53.91 Q403.50,98.80 358.07,107.22Z" fill="#2242a2" stroke="#2242a2" stroke-width="0.35" fill-opacity="1"/><path d="M360.37,115.36 A46.2,46.2 0 0 1 358.15,107.62 Q403.50,98.80 434.41,133.13 A46.2,46.2 0 0 1 429.67,136.87 Q402.72,101.30 360.37,115.36Z" fill="#1c379a" stroke="#1c379a" stroke-width="0.35" fill-opacity="1"/></g>
<g><path d="M585.30,28.60 A70.20,70.20 0 0 1 602.76,30.81" fill="none" stroke="#9b59b6" stroke-width="1.1"/><text x="594.22" y="28.16" transform="rotate(7.20 594.22 28.16)" class="net">AUD</text><path d="M606.99,32.04 A70.20,70.20 0 0 1 655.50,98.80" fill="none" stroke="#2e8b45" stroke-width="1.1"/><text x="642.90" y="56.95" transform="rotate(54.00 642.90 56.95)" class="net">VIS</text><path d="M655.36,103.21 A70.20,70.20 0 0 1 619.12,160.32" fill="none" stroke="#8a48c0" stroke-width="1.1"/><text x="649.30" y="139.42" transform="rotate(-57.60 649.30 139.42)" class="net">SMN</text><path d="M615.19,162.32 A70.20,70.20 0 0 1 547.68,158.07" fill="none" stroke="#d6e8a0" stroke-width="1.1"/><text x="580.54" y="174.45" transform="rotate(3.60 580.54 174.45)" class="net">DAN</text><path d="M544.04,155.59 A70.20,70.20 0 0 1 521.78,128.69" fill="none" stroke="#f0902c" stroke-width="1.1"/><text x="526.90" y="147.12" transform="rotate(50.40 526.90 147.12)" class="net">VAN</text><path d="M520.03,124.64 A70.20,70.20 0 0 1 515.65,107.60" fill="none" stroke="#d23a4a" stroke-width="1.1"/><text x="511.88" y="117.65" transform="rotate(75.60 511.88 117.65)" class="net">Limbic</text><path d="M515.24,103.21 A70.20,70.20 0 0 1 521.78,68.91" fill="none" stroke="#4a94d2" stroke-width="1.1"/><text x="515.36" y="85.46" transform="rotate(-79.20 515.36 85.46)" class="net">FPN</text><path d="M523.78,64.98 A70.20,70.20 0 0 1 580.89,28.74" fill="none" stroke="#273c82" stroke-width="1.1"/><text x="547.15" y="38.68" transform="rotate(-32.40 547.15 38.68)" class="net">DMN</text><path d="M585.30,50.20 A48.60,48.60 0 0 1 597.39,51.73" fill="none" stroke="#e62222" stroke-width="3.20"/><path d="M600.32,52.58 A48.60,48.60 0 0 1 611.34,57.77" fill="none" stroke="#e94b1d" stroke-width="3.20"/><path d="M611.34,57.77 A48.60,48.60 0 0 1 620.73,65.53" fill="none" stroke="#f07b1f" stroke-width="3.20"/><path d="M620.73,65.53 A48.60,48.60 0 0 1 627.89,75.39" fill="none" stroke="#f5a92a" stroke-width="3.20"/><path d="M627.89,75.39 A48.60,48.60 0 0 1 632.37,86.71" fill="none" stroke="#e4e23c" stroke-width="3.20"/><path d="M632.37,86.71 A48.60,48.60 0 0 1 633.90,98.80" fill="none" stroke="#b9d83e" stroke-width="3.20"/><path d="M633.80,101.85 A48.60,48.60 0 0 1 631.52,113.82" fill="none" stroke="#8ec93f" stroke-width="3.20"/><path d="M631.52,113.82 A48.60,48.60 0 0 1 626.33,124.84" fill="none" stroke="#79c234" stroke-width="3.20"/><path d="M626.33,124.84 A48.60,48.60 0 0 1 618.57,134.23" fill="none" stroke="#69bb35" stroke-width="3.20"/><path d="M618.57,134.23 A48.60,48.60 0 0 1 608.71,141.39" fill="none" stroke="#58b13f" stroke-width="3.20"/><path d="M605.99,142.77 A48.60,48.60 0 0 1 594.41,146.54" fill="none" stroke="#4dba7c" stroke-width="3.20"/><path d="M594.41,146.54 A48.60,48.60 0 0 1 582.25,147.30" fill="none" stroke="#4dc2b2" stroke-width="3.20"/><path d="M582.25,147.30 A48.60,48.60 0 0 1 570.28,145.02" fill="none" stroke="#45bee0" stroke-width="3.20"/><path d="M570.28,145.02 A48.60,48.60 0 0 1 559.26,139.83" fill="none" stroke="#2f87d3" stroke-width="3.20"/><path d="M556.73,138.12 A48.60,48.60 0 0 1 547.85,129.78" fill="none" stroke="#2b5dbd" stroke-width="3.20"/><path d="M547.85,129.78 A48.60,48.60 0 0 1 541.33,119.49" fill="none" stroke="#2951b5" stroke-width="3.20"/><path d="M540.11,116.69 A48.60,48.60 0 0 1 537.08,104.89" fill="none" stroke="#2649b0" stroke-width="3.20"/><path d="M536.80,101.85 A48.60,48.60 0 0 1 537.56,89.69" fill="none" stroke="#4a40ac" stroke-width="3.20"/><path d="M537.56,89.69 A48.60,48.60 0 0 1 541.33,78.11" fill="none" stroke="#6c42b2" stroke-width="3.20"/><path d="M542.71,75.39 A48.60,48.60 0 0 1 549.87,65.53" fill="none" stroke="#9542b5" stroke-width="3.20"/><path d="M549.87,65.53 A48.60,48.60 0 0 1 559.26,57.77" fill="none" stroke="#bb3ca8" stroke-width="3.20"/><path d="M559.26,57.77 A48.60,48.60 0 0 1 570.28,52.58" fill="none" stroke="#da2b8a" stroke-width="3.20"/><path d="M570.28,52.58 A48.60,48.60 0 0 1 582.25,50.30" fill="none" stroke="#e71f4c" stroke-width="3.20"/><line x1="610.32" y1="59.37" x2="612.36" y2="56.16" stroke="#fff" stroke-width="0.45" stroke-opacity="0.8"/><line x1="619.34" y1="66.83" x2="622.11" y2="64.23" stroke="#fff" stroke-width="0.45" stroke-opacity="0.8"/><line x1="626.22" y1="76.30" x2="629.55" y2="74.47" stroke="#fff" stroke-width="0.45" stroke-opacity="0.8"/><line x1="630.53" y1="87.19" x2="634.21" y2="86.24" stroke="#fff" stroke-width="0.45" stroke-opacity="0.8"/><line x1="629.71" y1="113.23" x2="633.33" y2="114.41" stroke="#fff" stroke-width="0.45" stroke-opacity="0.8"/><line x1="624.73" y1="123.82" x2="627.94" y2="125.86" stroke="#fff" stroke-width="0.45" stroke-opacity="0.8"/><line x1="617.27" y1="132.84" x2="619.87" y2="135.61" stroke="#fff" stroke-width="0.45" stroke-opacity="0.8"/><line x1="594.05" y1="144.67" x2="594.76" y2="148.41" stroke="#fff" stroke-width="0.45" stroke-opacity="0.8"/><line x1="582.37" y1="145.41" x2="582.13" y2="149.20" stroke="#fff" stroke-width="0.45" stroke-opacity="0.8"/><line x1="570.87" y1="143.21" x2="569.69" y2="146.83" stroke="#fff" stroke-width="0.45" stroke-opacity="0.8"/><line x1="549.32" y1="128.57" x2="546.39" y2="130.99" stroke="#fff" stroke-width="0.45" stroke-opacity="0.8"/><line x1="539.43" y1="90.05" x2="535.69" y2="89.34" stroke="#fff" stroke-width="0.45" stroke-opacity="0.8"/><line x1="551.26" y1="66.83" x2="548.49" y2="64.23" stroke="#fff" stroke-width="0.45" stroke-opacity="0.8"/><line x1="560.28" y1="59.37" x2="558.24" y2="56.16" stroke="#fff" stroke-width="0.45" stroke-opacity="0.8"/><line x1="570.87" y1="54.39" x2="569.69" y2="50.77" stroke="#fff" stroke-width="0.45" stroke-opacity="0.8"/><line x1="591.65" y1="48.50" x2="592.49" y2="41.90" stroke="#777" stroke-width="0.35"/><text x="591.63" y="48.70" dy="1.20" transform="rotate(-82.80 591.63 48.70)" text-anchor="start" class="reg">STG</text><line x1="606.89" y1="52.93" x2="613.66" y2="38.54" stroke="#777" stroke-width="0.35"/><text x="606.80" y="53.11" dy="1.20" transform="rotate(-64.80 606.80 53.11)" text-anchor="start" class="reg">Fusiform</text><line x1="617.62" y1="59.73" x2="625.39" y2="50.33" stroke="#777" stroke-width="0.35"/><text x="617.49" y="59.89" dy="1.20" transform="rotate(-50.40 617.49 59.89)" text-anchor="start" class="reg">Cuneus</text><line x1="626.32" y1="69.00" x2="631.70" y2="65.09" stroke="#777" stroke-width="0.35"/><text x="626.16" y="69.12" dy="1.20" transform="rotate(-36.00 626.16 69.12)" text-anchor="start" class="reg">PCC</text><line x1="632.44" y1="80.14" x2="648.94" y2="73.60" stroke="#777" stroke-width="0.35"/><text x="632.25" y="80.21" dy="1.20" transform="rotate(-21.60 632.25 80.21)" text-anchor="start" class="reg">Calcarine</text><line x1="635.60" y1="92.45" x2="660.55" y2="89.29" stroke="#777" stroke-width="0.35"/><text x="635.40" y="92.47" dy="1.20" transform="rotate(-7.20 635.40 92.47)" text-anchor="start" class="reg">Occipital_Mid</text><line x1="635.10" y1="108.30" x2="656.17" y2="112.32" stroke="#777" stroke-width="0.35"/><text x="634.91" y="108.26" dy="1.20" transform="rotate(10.80 634.91 108.26)" text-anchor="start" class="reg">Postcentral</text><line x1="631.17" y1="120.39" x2="652.26" y2="130.31" stroke="#777" stroke-width="0.35"/><text x="630.99" y="120.30" dy="1.20" transform="rotate(25.20 630.99 120.30)" text-anchor="start" class="reg">Precentral_L</text><line x1="624.37" y1="131.12" x2="629.49" y2="135.36" stroke="#777" stroke-width="0.35"/><text x="624.21" y="130.99" dy="1.20" transform="rotate(39.60 624.21 130.99)" text-anchor="start" class="reg">SMA</text><line x1="615.10" y1="139.82" x2="628.80" y2="158.67" stroke="#777" stroke-width="0.35"/><text x="614.98" y="139.66" dy="1.20" transform="rotate(54.00 614.98 139.66)" text-anchor="start" class="reg">Precentral_R</text><text x="600.91" y="146.83" dy="-0.25" transform="rotate(72.00 600.91 146.83)" text-anchor="start" class="reg">AG</text><text x="600.91" y="146.83" dy="2.65" transform="rotate(72.00 600.91 146.83)" text-anchor="start" class="reg">+MFG.L</text><line x1="588.48" y1="149.40" x2="590.06" y2="174.50" stroke="#777" stroke-width="0.35"/><text x="588.47" y="149.20" dy="1.20" transform="rotate(86.40 588.47 149.20)" text-anchor="start" class="reg">Parietal Lobe</text><line x1="575.80" y1="148.60" x2="571.43" y2="171.49" stroke="#777" stroke-width="0.35"/><text x="575.84" y="148.41" dy="1.20" transform="rotate(-79.20 575.84 148.41)" text-anchor="end" class="reg">Parietal_Sup</text><line x1="563.71" y1="144.67" x2="560.09" y2="152.37" stroke="#777" stroke-width="0.35"/><text x="563.80" y="144.49" dy="1.20" transform="rotate(-64.80 563.80 144.49)" text-anchor="end" class="reg">PCUN</text><line x1="550.59" y1="135.76" x2="546.04" y2="140.61" stroke="#777" stroke-width="0.35"/><text x="550.73" y="135.61" dy="1.20" transform="rotate(-46.80 550.73 135.61)" text-anchor="end" class="reg">IFG</text><text x="542.66" y="125.86" dy="-1.70" transform="rotate(-32.40 542.66 125.86)" text-anchor="end" class="reg">MFG</text><text x="542.66" y="125.86" dy="1.20" transform="rotate(-32.40 542.66 125.86)" text-anchor="end" class="reg">+Insula</text><text x="542.66" y="125.86" dy="4.10" transform="rotate(-32.40 542.66 125.86)" text-anchor="end" class="reg">+ACC</text><line x1="536.19" y1="111.41" x2="520.79" y2="115.36" stroke="#777" stroke-width="0.35"/><text x="536.39" y="111.36" dy="1.20" transform="rotate(-14.40 536.39 111.36)" text-anchor="end" class="reg">SFGmed.L</text><text x="534.90" y="95.63" dy="-0.25" transform="rotate(3.60 534.90 95.63)" text-anchor="end" class="reg">R AG</text><text x="534.90" y="95.63" dy="2.65" transform="rotate(3.60 534.90 95.63)" text-anchor="end" class="reg">+R Tem</text><text x="537.27" y="83.19" dy="-0.25" transform="rotate(18.00 537.27 83.19)" text-anchor="end" class="reg">L IFG</text><text x="537.27" y="83.19" dy="2.65" transform="rotate(18.00 537.27 83.19)" text-anchor="end" class="reg">+L IPL</text><text x="544.44" y="69.12" dy="-0.25" transform="rotate(36.00 544.44 69.12)" text-anchor="end" class="reg">PCUN</text><text x="544.44" y="69.12" dy="2.65" transform="rotate(36.00 544.44 69.12)" text-anchor="end" class="reg">+PCC</text><line x1="552.98" y1="59.73" x2="548.74" y2="54.61" stroke="#777" stroke-width="0.35"/><text x="553.11" y="59.89" dy="1.20" transform="rotate(50.40 553.11 59.89)" text-anchor="end" class="reg">MFG</text><text x="563.80" y="53.11" dy="-0.25" transform="rotate(64.80 563.80 53.11)" text-anchor="end" class="reg">SFGmed.L</text><text x="563.80" y="53.11" dy="2.65" transform="rotate(64.80 563.80 53.11)" text-anchor="end" class="reg">+PCC</text><line x1="575.80" y1="49.00" x2="574.21" y2="40.65" stroke="#777" stroke-width="0.35"/><text x="575.84" y="49.19" dy="1.20" transform="rotate(79.20 575.84 49.19)" text-anchor="end" class="reg">mPFC</text><path d="M572.57,143.21 A46.2,46.2 0 0 1 571.87,143.00 Q585.30,98.80 580.47,144.75 A46.2,46.2 0 0 1 579.83,144.68 Q584.96,100.51 572.57,143.21Z" fill="#8e1b1b" stroke="#8e1b1b" stroke-width="0.35" fill-opacity="1"/><path d="M571.33,142.84 A46.2,46.2 0 0 1 570.64,142.61 Q585.30,98.80 579.35,144.62 A46.2,46.2 0 0 1 578.71,144.53 Q584.91,100.49 571.33,142.84Z" fill="#8e1b1b" stroke="#8e1b1b" stroke-width="0.35" fill-opacity="1"/><path d="M570.18,142.46 A46.2,46.2 0 0 1 569.50,142.21 Q585.30,98.80 578.23,144.46 A46.2,46.2 0 0 1 577.60,144.35 Q584.87,100.48 570.18,142.46Z" fill="#8e1b1b" stroke="#8e1b1b" stroke-width="0.35" fill-opacity="1"/><path d="M599.96,54.99 A46.2,46.2 0 0 1 600.80,55.28 Q585.70,98.62 628.14,116.11 A46.2,46.2 0 0 1 627.76,117.00 Q585.30,98.80 599.96,54.99Z" fill="#2242a2" stroke="#2242a2" stroke-width="0.35" fill-opacity="1"/><path d="M610.26,59.92 A46.2,46.2 0 0 1 613.42,62.15 Q587.04,98.49 624.26,123.62 A46.2,46.2 0 0 1 622.44,126.28 Q585.30,98.80 610.26,59.92Z" fill="#1f3fa5" stroke="#1f3fa5" stroke-width="0.35" fill-opacity="1"/><path d="M561.71,59.07 A46.2,46.2 0 0 1 564.33,57.64 Q585.93,97.85 631.39,101.94 A46.2,46.2 0 0 1 630.89,106.27 Q585.30,98.80 561.71,59.07Z" fill="#2444a8" stroke="#2444a8" stroke-width="0.35" fill-opacity="1"/><path d="M582.08,144.89 A46.2,46.2 0 0 1 573.34,143.43 Q585.30,98.80 622.20,126.60 A46.2,46.2 0 0 1 617.97,131.47 Q587.21,103.91 582.08,144.89Z" fill="#1b2a6c" stroke="#1b2a6c" stroke-width="0.35" fill-opacity="1"/><path d="M586.59,144.98 A46.2,46.2 0 0 1 582.08,144.89 Q585.30,98.80 629.16,113.31 A46.2,46.2 0 0 1 628.43,115.36 Q586.49,100.48 586.59,144.98Z" fill="#2446a8" stroke="#2446a8" stroke-width="0.35" fill-opacity="1"/><path d="M569.04,142.05 A46.2,46.2 0 0 1 568.44,141.81 Q585.30,98.80 593.32,144.30 A46.2,46.2 0 0 1 592.69,144.41 Q585.16,100.22 569.04,142.05Z" fill="#9a2020" stroke="#9a2020" stroke-width="0.35" fill-opacity="1"/></g>
<text x="97.5" y="189" class="pair" text-anchor="middle">IFG-SFGmed.L</text>
<text x="97.5" y="199.5" class="pair" text-anchor="middle">STG-SFGmed.L</text>
<text x="185" y="191.3" class="pr">SMA-Parietal_Sup</text><text x="185" y="196.8" class="pr">Precentral_L-Parietal_Sup</text>
<text x="251.6" y="191.3" class="pr">Postcentral-SFGmed.L +PCC</text><text x="251.6" y="196.8" class="pr">Precentral_L-Fusiform</text>
<text x="381" y="188.8" class="pr">Fusiform-PCUN+PCC</text><text x="381" y="194" class="pr">Precentral_R-SFGmed.L</text><text x="381" y="199.2" class="pr">SFGmed.L-mPFC</text>
<text x="514.4" y="182.60" class="pr">SMA+Parietal_Sup</text>
<text x="514.4" y="187.87" class="pr">SMA-Cuneus</text>
<text x="514.4" y="193.14" class="pr">Postcentral-SFGmed.L+PCC</text>
<text x="514.4" y="198.41" class="pr">Precentral_L-Fusiform</text>
<text x="514.4" y="203.68" class="pr">Precentral_L-Parietal_Sup</text>
<text x="588.6" y="192" class="pr">AG+MFG.L-PCUN</text><text x="588.6" y="197.3" class="pr">Parietal_Sup-PCUN</text>
<rect x="41.60" y="219.00" width="115.69" height="115.00" fill="#9bce69"/><line x1="46.63" y1="219.00" x2="46.63" y2="334.00" stroke="#d3edbd" stroke-width="0.6"/><line x1="41.60" y1="224.00" x2="157.29" y2="224.00" stroke="#d3edbd" stroke-width="0.6"/><line x1="51.66" y1="219.00" x2="51.66" y2="334.00" stroke="#d3edbd" stroke-width="0.6"/><line x1="41.60" y1="229.00" x2="157.29" y2="229.00" stroke="#d3edbd" stroke-width="0.6"/><line x1="56.69" y1="219.00" x2="56.69" y2="334.00" stroke="#d3edbd" stroke-width="0.6"/><line x1="41.60" y1="234.00" x2="157.29" y2="234.00" stroke="#d3edbd" stroke-width="0.6"/><line x1="61.72" y1="219.00" x2="61.72" y2="334.00" stroke="#d3edbd" stroke-width="0.6"/><line x1="41.60" y1="239.00" x2="157.29" y2="239.00" stroke="#d3edbd" stroke-width="0.6"/><line x1="66.75" y1="219.00" x2="66.75" y2="334.00" stroke="#d3edbd" stroke-width="0.6"/><line x1="41.60" y1="244.00" x2="157.29" y2="244.00" stroke="#d3edbd" stroke-width="0.6"/><line x1="71.78" y1="219.00" x2="71.78" y2="334.00" stroke="#d3edbd" stroke-width="0.6"/><line x1="41.60" y1="249.00" x2="157.29" y2="249.00" stroke="#d3edbd" stroke-width="0.6"/><line x1="76.81" y1="219.00" x2="76.81" y2="334.00" stroke="#d3edbd" stroke-width="0.6"/><line x1="41.60" y1="254.00" x2="157.29" y2="254.00" stroke="#d3edbd" stroke-width="0.6"/><line x1="81.84" y1="219.00" x2="81.84" y2="334.00" stroke="#d3edbd" stroke-width="0.6"/><line x1="41.60" y1="259.00" x2="157.29" y2="259.00" stroke="#d3edbd" stroke-width="0.6"/><line x1="86.87" y1="219.00" x2="86.87" y2="334.00" stroke="#d3edbd" stroke-width="0.6"/><line x1="41.60" y1="264.00" x2="157.29" y2="264.00" stroke="#d3edbd" stroke-width="0.6"/><line x1="91.90" y1="219.00" x2="91.90" y2="334.00" stroke="#d3edbd" stroke-width="0.6"/><line x1="41.60" y1="269.00" x2="157.29" y2="269.00" stroke="#d3edbd" stroke-width="0.6"/><line x1="96.93" y1="219.00" x2="96.93" y2="334.00" stroke="#d3edbd" stroke-width="0.6"/><line x1="41.60" y1="274.00" x2="157.29" y2="274.00" stroke="#d3edbd" stroke-width="0.6"/><line x1="101.96" y1="219.00" x2="101.96" y2="334.00" stroke="#d3edbd" stroke-width="0.6"/><line x1="41.60" y1="279.00" x2="157.29" y2="279.00" stroke="#d3edbd" stroke-width="0.6"/><line x1="106.99" y1="219.00" x2="106.99" y2="334.00" stroke="#d3edbd" stroke-width="0.6"/><line x1="41.60" y1="284.00" x2="157.29" y2="284.00" stroke="#d3edbd" stroke-width="0.6"/><line x1="112.02" y1="219.00" x2="112.02" y2="334.00" stroke="#d3edbd" stroke-width="0.6"/><line x1="41.60" y1="289.00" x2="157.29" y2="289.00" stroke="#d3edbd" stroke-width="0.6"/><line x1="117.05" y1="219.00" x2="117.05" y2="334.00" stroke="#d3edbd" stroke-width="0.6"/><line x1="41.60" y1="294.00" x2="157.29" y2="294.00" stroke="#d3edbd" stroke-width="0.6"/><line x1="122.08" y1="219.00" x2="122.08" y2="334.00" stroke="#d3edbd" stroke-width="0.6"/><line x1="41.60" y1="299.00" x2="157.29" y2="299.00" stroke="#d3edbd" stroke-width="0.6"/><line x1="127.11" y1="219.00" x2="127.11" y2="334.00" stroke="#d3edbd" stroke-width="0.6"/><line x1="41.60" y1="304.00" x2="157.29" y2="304.00" stroke="#d3edbd" stroke-width="0.6"/><line x1="132.14" y1="219.00" x2="132.14" y2="334.00" stroke="#d3edbd" stroke-width="0.6"/><line x1="41.60" y1="309.00" x2="157.29" y2="309.00" stroke="#d3edbd" stroke-width="0.6"/><line x1="137.17" y1="219.00" x2="137.17" y2="334.00" stroke="#d3edbd" stroke-width="0.6"/><line x1="41.60" y1="314.00" x2="157.29" y2="314.00" stroke="#d3edbd" stroke-width="0.6"/><line x1="142.20" y1="219.00" x2="142.20" y2="334.00" stroke="#d3edbd" stroke-width="0.6"/><line x1="41.60" y1="319.00" x2="157.29" y2="319.00" stroke="#d3edbd" stroke-width="0.6"/><line x1="147.23" y1="219.00" x2="147.23" y2="334.00" stroke="#d3edbd" stroke-width="0.6"/><line x1="41.60" y1="324.00" x2="157.29" y2="324.00" stroke="#d3edbd" stroke-width="0.6"/><line x1="152.26" y1="219.00" x2="152.26" y2="334.00" stroke="#d3edbd" stroke-width="0.6"/><line x1="41.60" y1="329.00" x2="157.29" y2="329.00" stroke="#d3edbd" stroke-width="0.6"/><rect x="122.08" y="219.00" width="5.03" height="5.00" fill="#1e2c7a"/><rect x="41.60" y="299.00" width="5.03" height="5.00" fill="#2747a8"/><rect x="122.08" y="289.00" width="5.03" height="5.00" fill="#1e2c7a"/><rect x="112.02" y="299.00" width="5.03" height="5.00" fill="#1e2c7a"/><line x1="46.63" y1="219.00" x2="46.63" y2="334.00" stroke="#2f8232" stroke-width="0.75"/><line x1="41.60" y1="224.00" x2="157.29" y2="224.00" stroke="#2f8232" stroke-width="0.75"/><line x1="71.78" y1="219.00" x2="71.78" y2="334.00" stroke="#2f8232" stroke-width="0.75"/><line x1="41.60" y1="249.00" x2="157.29" y2="249.00" stroke="#2f8232" stroke-width="0.75"/><line x1="91.90" y1="219.00" x2="91.90" y2="334.00" stroke="#2f8232" stroke-width="0.75"/><line x1="41.60" y1="269.00" x2="157.29" y2="269.00" stroke="#2f8232" stroke-width="0.75"/><line x1="112.02" y1="219.00" x2="112.02" y2="334.00" stroke="#2f8232" stroke-width="0.75"/><line x1="41.60" y1="289.00" x2="157.29" y2="289.00" stroke="#2f8232" stroke-width="0.75"/><line x1="122.08" y1="219.00" x2="122.08" y2="334.00" stroke="#2f8232" stroke-width="0.75"/><line x1="41.60" y1="299.00" x2="157.29" y2="299.00" stroke="#2f8232" stroke-width="0.75"/><line x1="127.11" y1="219.00" x2="127.11" y2="334.00" stroke="#2f8232" stroke-width="0.75"/><line x1="41.60" y1="304.00" x2="157.29" y2="304.00" stroke="#2f8232" stroke-width="0.75"/><line x1="137.17" y1="219.00" x2="137.17" y2="334.00" stroke="#2f8232" stroke-width="0.75"/><line x1="41.60" y1="314.00" x2="157.29" y2="314.00" stroke="#2f8232" stroke-width="0.75"/><rect x="41.60" y="219.00" width="115.69" height="115.00" fill="none" stroke="#6a7a6a" stroke-width="0.6"/><text x="44.40" y="223.10" class="num" text-anchor="middle">1</text><text x="49.43" y="228.10" class="num" text-anchor="middle">2</text><text x="54.46" y="233.10" class="num" text-anchor="middle">3</text><text x="59.49" y="238.10" class="num" text-anchor="middle">4</text><text x="64.52" y="243.10" class="num" text-anchor="middle">5</text><text x="69.55" y="248.10" class="num" text-anchor="middle">6</text><text x="74.58" y="253.10" class="num" text-anchor="middle">7</text><text x="79.61" y="258.10" class="num" text-anchor="middle">8</text><text x="84.64" y="263.10" class="num" text-anchor="middle">9</text><text x="89.67" y="268.10" class="num" text-anchor="middle">10</text><text x="94.70" y="273.10" class="num" text-anchor="middle">11</text><text x="99.73" y="278.10" class="num" text-anchor="middle">12</text><text x="104.76" y="283.10" class="num" text-anchor="middle">13</text><text x="109.79" y="288.10" class="num" text-anchor="middle">14</text><text x="114.82" y="293.10" class="num" text-anchor="middle">15</text><text x="119.85" y="298.10" class="num" text-anchor="middle">16</text><text x="124.88" y="303.10" class="num" text-anchor="middle">17</text><text x="129.91" y="308.10" class="num" text-anchor="middle">18</text><text x="134.94" y="313.10" class="num" text-anchor="middle">19</text><text x="139.97" y="318.10" class="num" text-anchor="middle">20</text><text x="145.00" y="323.10" class="num" text-anchor="middle">21</text><text x="150.03" y="328.10" class="num" text-anchor="middle">22</text><text x="155.06" y="333.10" class="num" text-anchor="middle">23</text><text x="99.45" y="217.60" class="ht" text-anchor="middle">Results of State 2</text><text x="41.30" y="222.66" class="rl" style="font-size:3.4px" text-anchor="end">STG</text><text x="41.30" y="227.66" class="rl" style="font-size:3.4px" text-anchor="end">Fusiform</text><text x="41.30" y="232.66" class="rl" style="font-size:3.4px" text-anchor="end">Cuneus</text><text x="41.30" y="237.66" class="rl" style="font-size:3.4px" text-anchor="end">PCC</text><text x="41.30" y="242.66" class="rl" style="font-size:3.4px" text-anchor="end">Calcarine</text><text x="41.30" y="247.66" class="rl" style="font-size:3.4px" text-anchor="end">Occipital_Mid</text><text x="41.30" y="252.66" class="rl" style="font-size:3.4px" text-anchor="end">Postcentral</text><text x="41.30" y="257.66" class="rl" style="font-size:3.4px" text-anchor="end">Precentral_L</text><text x="41.30" y="262.66" class="rl" style="font-size:3.4px" text-anchor="end">SMA</text><text x="41.30" y="267.66" class="rl" style="font-size:3.4px" text-anchor="end">Precentral_R</text><text x="41.30" y="272.66" class="rl" style="font-size:3.4px" text-anchor="end">AG+MFG.L</text><text x="41.30" y="277.66" class="rl" style="font-size:3.4px" text-anchor="end">Parietal Lobe</text><text x="41.30" y="282.66" class="rl" style="font-size:3.4px" text-anchor="end">Parietal_Sup</text><text x="41.30" y="287.66" class="rl" style="font-size:3.4px" text-anchor="end">PCUN</text><text x="41.30" y="291.48" class="rl" style="font-size:2.6px" text-anchor="end">IFG</text><text x="36.90" y="293.28" class="rl" style="font-size:2.6px" text-anchor="end">MFG</text><text x="37.30" y="296.78" class="rl" style="font-size:2.6px" text-anchor="end">+Insula</text><text x="37.30" y="299.28" class="rl" style="font-size:2.6px" text-anchor="end">+ACC</text><text x="41.30" y="303.46" class="rl" style="font-size:3.4px" text-anchor="end">SFGmed.L</text><text x="37.70" y="306.88" class="rl" style="font-size:2.6px" text-anchor="end">R AG</text><text x="40.30" y="309.08" class="rl" style="font-size:2.6px" text-anchor="end">+R SFG</text><text x="41.30" y="313.26" class="rl" style="font-size:3.4px" text-anchor="end">L IFG + L IPL</text><text x="41.30" y="317.66" class="rl" style="font-size:3.4px" text-anchor="end">PCUN+PCC</text><text x="41.30" y="323.46" class="rl" style="font-size:3.4px" text-anchor="end">MFG</text><text x="41.30" y="326.85" class="rl" style="font-size:2.8px" text-anchor="end">SFGmed.L</text><text x="37.70" y="329.18" class="rl" style="font-size:2.6px" text-anchor="end">+PCC</text><text x="41.30" y="333.46" class="rl" style="font-size:3.4px" text-anchor="end">mPFC</text><text x="45.27" y="335.00" class="rl" style="font-size:3.4px" text-anchor="end" transform="rotate(-90 45.27 335.00)">STG</text><text x="50.30" y="335.00" class="rl" style="font-size:3.4px" text-anchor="end" transform="rotate(-90 50.30 335.00)">Fusiform</text><text x="55.33" y="335.00" class="rl" style="font-size:3.4px" text-anchor="end" transform="rotate(-90 55.33 335.00)">Cuneus</text><text x="60.36" y="335.00" class="rl" style="font-size:3.4px" text-anchor="end" transform="rotate(-90 60.36 335.00)">PCC</text><text x="65.39" y="335.00" class="rl" style="font-size:3.4px" text-anchor="end" transform="rotate(-90 65.39 335.00)">Calcarine</text><text x="70.42" y="335.00" class="rl" style="font-size:3.4px" text-anchor="end" transform="rotate(-90 70.42 335.00)">Occipital_Mid</text><text x="75.45" y="335.00" class="rl" style="font-size:3.4px" text-anchor="end" transform="rotate(-90 75.45 335.00)">Postcentral</text><text x="80.48" y="335.00" class="rl" style="font-size:3.4px" text-anchor="end" transform="rotate(-90 80.48 335.00)">Precentral_L</text><text x="85.51" y="335.00" class="rl" style="font-size:3.4px" text-anchor="end" transform="rotate(-90 85.51 335.00)">SMA</text><text x="90.54" y="335.00" class="rl" style="font-size:3.4px" text-anchor="end" transform="rotate(-90 90.54 335.00)">Precentral_R</text><text x="95.57" y="335.00" class="rl" style="font-size:3.4px" text-anchor="end" transform="rotate(-90 95.57 335.00)">AG+MFG.L</text><text x="100.60" y="335.00" class="rl" style="font-size:3.4px" text-anchor="end" transform="rotate(-90 100.60 335.00)">Parietal Lobe</text><text x="105.63" y="335.00" class="rl" style="font-size:3.4px" text-anchor="end" transform="rotate(-90 105.63 335.00)">Parietal_Sup</text><text x="110.66" y="335.00" class="rl" style="font-size:3.4px" text-anchor="end" transform="rotate(-90 110.66 335.00)">PCUN</text><text x="114.52" y="335.00" class="rl" style="font-size:2.6px" text-anchor="end" transform="rotate(-90 114.52 335.00)">IFG</text><text x="116.32" y="339.40" class="rl" style="font-size:2.6px" text-anchor="end" transform="rotate(-90 116.32 339.40)">MFG</text><text x="119.85" y="339.00" class="rl" style="font-size:2.6px" text-anchor="end" transform="rotate(-90 119.85 339.00)">+Insula</text><text x="122.35" y="339.00" class="rl" style="font-size:2.6px" text-anchor="end" transform="rotate(-90 122.35 339.00)">+ACC</text><text x="126.55" y="335.00" class="rl" style="font-size:3.4px" text-anchor="end" transform="rotate(-90 126.55 335.00)">SFGmed.L</text><text x="130.01" y="338.60" class="rl" style="font-size:2.6px" text-anchor="end" transform="rotate(-90 130.01 338.60)">R AG</text><text x="132.21" y="336.00" class="rl" style="font-size:2.6px" text-anchor="end" transform="rotate(-90 132.21 336.00)">+R SFG</text><text x="136.41" y="335.00" class="rl" style="font-size:3.4px" text-anchor="end" transform="rotate(-90 136.41 335.00)">L IFG + L IPL</text><text x="140.84" y="335.00" class="rl" style="font-size:3.4px" text-anchor="end" transform="rotate(-90 140.84 335.00)">PCUN+PCC</text><text x="146.67" y="335.00" class="rl" style="font-size:3.4px" text-anchor="end" transform="rotate(-90 146.67 335.00)">MFG</text><text x="150.10" y="335.00" class="rl" style="font-size:2.8px" text-anchor="end" transform="rotate(-90 150.10 335.00)">SFGmed.L</text><text x="152.43" y="338.60" class="rl" style="font-size:2.6px" text-anchor="end" transform="rotate(-90 152.43 338.60)">+PCC</text><text x="156.73" y="335.00" class="rl" style="font-size:3.4px" text-anchor="end" transform="rotate(-90 156.73 335.00)">mPFC</text>
<rect x="193.40" y="219.20" width="115.46" height="115.00" fill="#9bce69"/><line x1="198.42" y1="219.20" x2="198.42" y2="334.20" stroke="#d3edbd" stroke-width="0.6"/><line x1="193.40" y1="224.20" x2="308.86" y2="224.20" stroke="#d3edbd" stroke-width="0.6"/><line x1="203.44" y1="219.20" x2="203.44" y2="334.20" stroke="#d3edbd" stroke-width="0.6"/><line x1="193.40" y1="229.20" x2="308.86" y2="229.20" stroke="#d3edbd" stroke-width="0.6"/><line x1="208.46" y1="219.20" x2="208.46" y2="334.20" stroke="#d3edbd" stroke-width="0.6"/><line x1="193.40" y1="234.20" x2="308.86" y2="234.20" stroke="#d3edbd" stroke-width="0.6"/><line x1="213.48" y1="219.20" x2="213.48" y2="334.20" stroke="#d3edbd" stroke-width="0.6"/><line x1="193.40" y1="239.20" x2="308.86" y2="239.20" stroke="#d3edbd" stroke-width="0.6"/><line x1="218.50" y1="219.20" x2="218.50" y2="334.20" stroke="#d3edbd" stroke-width="0.6"/><line x1="193.40" y1="244.20" x2="308.86" y2="244.20" stroke="#d3edbd" stroke-width="0.6"/><line x1="223.52" y1="219.20" x2="223.52" y2="334.20" stroke="#d3edbd" stroke-width="0.6"/><line x1="193.40" y1="249.20" x2="308.86" y2="249.20" stroke="#d3edbd" stroke-width="0.6"/><line x1="228.54" y1="219.20" x2="228.54" y2="334.20" stroke="#d3edbd" stroke-width="0.6"/><line x1="193.40" y1="254.20" x2="308.86" y2="254.20" stroke="#d3edbd" stroke-width="0.6"/><line x1="233.56" y1="219.20" x2="233.56" y2="334.20" stroke="#d3edbd" stroke-width="0.6"/><line x1="193.40" y1="259.20" x2="308.86" y2="259.20" stroke="#d3edbd" stroke-width="0.6"/><line x1="238.58" y1="219.20" x2="238.58" y2="334.20" stroke="#d3edbd" stroke-width="0.6"/><line x1="193.40" y1="264.20" x2="308.86" y2="264.20" stroke="#d3edbd" stroke-width="0.6"/><line x1="243.60" y1="219.20" x2="243.60" y2="334.20" stroke="#d3edbd" stroke-width="0.6"/><line x1="193.40" y1="269.20" x2="308.86" y2="269.20" stroke="#d3edbd" stroke-width="0.6"/><line x1="248.62" y1="219.20" x2="248.62" y2="334.20" stroke="#d3edbd" stroke-width="0.6"/><line x1="193.40" y1="274.20" x2="308.86" y2="274.20" stroke="#d3edbd" stroke-width="0.6"/><line x1="253.64" y1="219.20" x2="253.64" y2="334.20" stroke="#d3edbd" stroke-width="0.6"/><line x1="193.40" y1="279.20" x2="308.86" y2="279.20" stroke="#d3edbd" stroke-width="0.6"/><line x1="258.66" y1="219.20" x2="258.66" y2="334.20" stroke="#d3edbd" stroke-width="0.6"/><line x1="193.40" y1="284.20" x2="308.86" y2="284.20" stroke="#d3edbd" stroke-width="0.6"/><line x1="263.68" y1="219.20" x2="263.68" y2="334.20" stroke="#d3edbd" stroke-width="0.6"/><line x1="193.40" y1="289.20" x2="308.86" y2="289.20" stroke="#d3edbd" stroke-width="0.6"/><line x1="268.70" y1="219.20" x2="268.70" y2="334.20" stroke="#d3edbd" stroke-width="0.6"/><line x1="193.40" y1="294.20" x2="308.86" y2="294.20" stroke="#d3edbd" stroke-width="0.6"/><line x1="273.72" y1="219.20" x2="273.72" y2="334.20" stroke="#d3edbd" stroke-width="0.6"/><line x1="193.40" y1="299.20" x2="308.86" y2="299.20" stroke="#d3edbd" stroke-width="0.6"/><line x1="278.74" y1="219.20" x2="278.74" y2="334.20" stroke="#d3edbd" stroke-width="0.6"/><line x1="193.40" y1="304.20" x2="308.86" y2="304.20" stroke="#d3edbd" stroke-width="0.6"/><line x1="283.76" y1="219.20" x2="283.76" y2="334.20" stroke="#d3edbd" stroke-width="0.6"/><line x1="193.40" y1="309.20" x2="308.86" y2="309.20" stroke="#d3edbd" stroke-width="0.6"/><line x1="288.78" y1="219.20" x2="288.78" y2="334.20" stroke="#d3edbd" stroke-width="0.6"/><line x1="193.40" y1="314.20" x2="308.86" y2="314.20" stroke="#d3edbd" stroke-width="0.6"/><line x1="293.80" y1="219.20" x2="293.80" y2="334.20" stroke="#d3edbd" stroke-width="0.6"/><line x1="193.40" y1="319.20" x2="308.86" y2="319.20" stroke="#d3edbd" stroke-width="0.6"/><line x1="298.82" y1="219.20" x2="298.82" y2="334.20" stroke="#d3edbd" stroke-width="0.6"/><line x1="193.40" y1="324.20" x2="308.86" y2="324.20" stroke="#d3edbd" stroke-width="0.6"/><line x1="303.84" y1="219.20" x2="303.84" y2="334.20" stroke="#d3edbd" stroke-width="0.6"/><line x1="193.40" y1="329.20" x2="308.86" y2="329.20" stroke="#d3edbd" stroke-width="0.6"/><rect x="228.54" y="224.20" width="5.02" height="5.00" fill="#2747a8"/><rect x="198.42" y="254.20" width="5.02" height="5.00" fill="#2747a8"/><rect x="298.82" y="249.20" width="5.02" height="5.00" fill="#2747a8"/><rect x="223.52" y="324.20" width="5.02" height="5.00" fill="#2747a8"/><rect x="253.64" y="254.20" width="5.02" height="5.00" fill="#2747a8"/><rect x="253.64" y="259.20" width="5.02" height="5.00" fill="#1e2c7a"/><rect x="228.54" y="279.20" width="5.02" height="5.00" fill="#2747a8"/><rect x="233.56" y="279.20" width="5.02" height="5.00" fill="#1e2c7a"/><line x1="198.42" y1="219.20" x2="198.42" y2="334.20" stroke="#2f8232" stroke-width="0.75"/><line x1="193.40" y1="224.20" x2="308.86" y2="224.20" stroke="#2f8232" stroke-width="0.75"/><line x1="223.52" y1="219.20" x2="223.52" y2="334.20" stroke="#2f8232" stroke-width="0.75"/><line x1="193.40" y1="249.20" x2="308.86" y2="249.20" stroke="#2f8232" stroke-width="0.75"/><line x1="243.60" y1="219.20" x2="243.60" y2="334.20" stroke="#2f8232" stroke-width="0.75"/><line x1="193.40" y1="269.20" x2="308.86" y2="269.20" stroke="#2f8232" stroke-width="0.75"/><line x1="263.68" y1="219.20" x2="263.68" y2="334.20" stroke="#2f8232" stroke-width="0.75"/><line x1="193.40" y1="289.20" x2="308.86" y2="289.20" stroke="#2f8232" stroke-width="0.75"/><line x1="273.72" y1="219.20" x2="273.72" y2="334.20" stroke="#2f8232" stroke-width="0.75"/><line x1="193.40" y1="299.20" x2="308.86" y2="299.20" stroke="#2f8232" stroke-width="0.75"/><line x1="278.74" y1="219.20" x2="278.74" y2="334.20" stroke="#2f8232" stroke-width="0.75"/><line x1="193.40" y1="304.20" x2="308.86" y2="304.20" stroke="#2f8232" stroke-width="0.75"/><line x1="288.78" y1="219.20" x2="288.78" y2="334.20" stroke="#2f8232" stroke-width="0.75"/><line x1="193.40" y1="314.20" x2="308.86" y2="314.20" stroke="#2f8232" stroke-width="0.75"/><rect x="193.40" y="219.20" width="115.46" height="115.00" fill="none" stroke="#6a7a6a" stroke-width="0.6"/><text x="196.20" y="223.30" class="num" text-anchor="middle">1</text><text x="201.22" y="228.30" class="num" text-anchor="middle">2</text><text x="206.24" y="233.30" class="num" text-anchor="middle">3</text><text x="211.26" y="238.30" class="num" text-anchor="middle">4</text><text x="216.28" y="243.30" class="num" text-anchor="middle">5</text><text x="221.30" y="248.30" class="num" text-anchor="middle">6</text><text x="226.32" y="253.30" class="num" text-anchor="middle">7</text><text x="231.34" y="258.30" class="num" text-anchor="middle">8</text><text x="236.36" y="263.30" class="num" text-anchor="middle">9</text><text x="241.38" y="268.30" class="num" text-anchor="middle">10</text><text x="246.40" y="273.30" class="num" text-anchor="middle">11</text><text x="251.42" y="278.30" class="num" text-anchor="middle">12</text><text x="256.44" y="283.30" class="num" text-anchor="middle">13</text><text x="261.46" y="288.30" class="num" text-anchor="middle">14</text><text x="266.48" y="293.30" class="num" text-anchor="middle">15</text><text x="271.50" y="298.30" class="num" text-anchor="middle">16</text><text x="276.52" y="303.30" class="num" text-anchor="middle">17</text><text x="281.54" y="308.30" class="num" text-anchor="middle">18</text><text x="286.56" y="313.30" class="num" text-anchor="middle">19</text><text x="291.58" y="318.30" class="num" text-anchor="middle">20</text><text x="296.60" y="323.30" class="num" text-anchor="middle">21</text><text x="301.62" y="328.30" class="num" text-anchor="middle">22</text><text x="306.64" y="333.30" class="num" text-anchor="middle">23</text><text x="251.13" y="217.80" class="ht" text-anchor="middle">Results of State 4</text><text x="193.10" y="222.86" class="rl" style="font-size:3.4px" text-anchor="end">STG</text><text x="193.10" y="227.86" class="rl" style="font-size:3.4px" text-anchor="end">Fusiform</text><text x="193.10" y="232.86" class="rl" style="font-size:3.4px" text-anchor="end">Cuneus</text><text x="193.10" y="237.86" class="rl" style="font-size:3.4px" text-anchor="end">PCC</text><text x="193.10" y="242.86" class="rl" style="font-size:3.4px" text-anchor="end">Calcarine</text><text x="193.10" y="247.86" class="rl" style="font-size:3.4px" text-anchor="end">Occipital_Mid</text><text x="193.10" y="252.86" class="rl" style="font-size:3.4px" text-anchor="end">Postcentral</text><text x="193.10" y="257.86" class="rl" style="font-size:3.4px" text-anchor="end">Precentral_L</text><text x="193.10" y="262.86" class="rl" style="font-size:3.4px" text-anchor="end">SMA</text><text x="193.10" y="267.86" class="rl" style="font-size:3.4px" text-anchor="end">Precentral_R</text><text x="193.10" y="272.86" class="rl" style="font-size:3.4px" text-anchor="end">AG+MFG.L</text><text x="193.10" y="277.86" class="rl" style="font-size:3.4px" text-anchor="end">Parietal Lobe</text><text x="193.10" y="282.86" class="rl" style="font-size:3.4px" text-anchor="end">Parietal_Sup</text><text x="193.10" y="287.86" class="rl" style="font-size:3.4px" text-anchor="end">PCUN</text><text x="193.10" y="291.68" class="rl" style="font-size:2.6px" text-anchor="end">IFG</text><text x="188.70" y="293.48" class="rl" style="font-size:2.6px" text-anchor="end">MFG</text><text x="189.10" y="296.98" class="rl" style="font-size:2.6px" text-anchor="end">+Insula</text><text x="189.10" y="299.48" class="rl" style="font-size:2.6px" text-anchor="end">+ACC</text><text x="193.10" y="303.66" class="rl" style="font-size:3.4px" text-anchor="end">SFGmed.L</text><text x="189.50" y="307.08" class="rl" style="font-size:2.6px" text-anchor="end">R AG</text><text x="192.10" y="309.28" class="rl" style="font-size:2.6px" text-anchor="end">+R SFG</text><text x="193.10" y="313.46" class="rl" style="font-size:3.4px" text-anchor="end">L IFG + L IPL</text><text x="193.10" y="317.86" class="rl" style="font-size:3.4px" text-anchor="end">PCUN+PCC</text><text x="193.10" y="323.66" class="rl" style="font-size:3.4px" text-anchor="end">MFG</text><text x="193.10" y="327.05" class="rl" style="font-size:2.8px" text-anchor="end">SFGmed.L</text><text x="189.50" y="329.38" class="rl" style="font-size:2.6px" text-anchor="end">+PCC</text><text x="193.10" y="333.66" class="rl" style="font-size:3.4px" text-anchor="end">mPFC</text><text x="197.07" y="335.20" class="rl" style="font-size:3.4px" text-anchor="end" transform="rotate(-90 197.07 335.20)">STG</text><text x="202.09" y="335.20" class="rl" style="font-size:3.4px" text-anchor="end" transform="rotate(-90 202.09 335.20)">Fusiform</text><text x="207.11" y="335.20" class="rl" style="font-size:3.4px" text-anchor="end" transform="rotate(-90 207.11 335.20)">Cuneus</text><text x="212.13" y="335.20" class="rl" style="font-size:3.4px" text-anchor="end" transform="rotate(-90 212.13 335.20)">PCC</text><text x="217.15" y="335.20" class="rl" style="font-size:3.4px" text-anchor="end" transform="rotate(-90 217.15 335.20)">Calcarine</text><text x="222.17" y="335.20" class="rl" style="font-size:3.4px" text-anchor="end" transform="rotate(-90 222.17 335.20)">Occipital_Mid</text><text x="227.19" y="335.20" class="rl" style="font-size:3.4px" text-anchor="end" transform="rotate(-90 227.19 335.20)">Postcentral</text><text x="232.21" y="335.20" class="rl" style="font-size:3.4px" text-anchor="end" transform="rotate(-90 232.21 335.20)">Precentral_L</text><text x="237.23" y="335.20" class="rl" style="font-size:3.4px" text-anchor="end" transform="rotate(-90 237.23 335.20)">SMA</text><text x="242.25" y="335.20" class="rl" style="font-size:3.4px" text-anchor="end" transform="rotate(-90 242.25 335.20)">Precentral_R</text><text x="247.27" y="335.20" class="rl" style="font-size:3.4px" text-anchor="end" transform="rotate(-90 247.27 335.20)">AG+MFG.L</text><text x="252.29" y="335.20" class="rl" style="font-size:3.4px" text-anchor="end" transform="rotate(-90 252.29 335.20)">Parietal Lobe</text><text x="257.31" y="335.20" class="rl" style="font-size:3.4px" text-anchor="end" transform="rotate(-90 257.31 335.20)">Parietal_Sup</text><text x="262.33" y="335.20" class="rl" style="font-size:3.4px" text-anchor="end" transform="rotate(-90 262.33 335.20)">PCUN</text><text x="266.17" y="335.20" class="rl" style="font-size:2.6px" text-anchor="end" transform="rotate(-90 266.17 335.20)">IFG</text><text x="267.97" y="339.60" class="rl" style="font-size:2.6px" text-anchor="end" transform="rotate(-90 267.97 339.60)">MFG</text><text x="271.49" y="339.20" class="rl" style="font-size:2.6px" text-anchor="end" transform="rotate(-90 271.49 339.20)">+Insula</text><text x="273.99" y="339.20" class="rl" style="font-size:2.6px" text-anchor="end" transform="rotate(-90 273.99 339.20)">+ACC</text><text x="278.19" y="335.20" class="rl" style="font-size:3.4px" text-anchor="end" transform="rotate(-90 278.19 335.20)">SFGmed.L</text><text x="281.63" y="338.80" class="rl" style="font-size:2.6px" text-anchor="end" transform="rotate(-90 281.63 338.80)">R AG</text><text x="283.83" y="336.20" class="rl" style="font-size:2.6px" text-anchor="end" transform="rotate(-90 283.83 336.20)">+R SFG</text><text x="288.03" y="335.20" class="rl" style="font-size:3.4px" text-anchor="end" transform="rotate(-90 288.03 335.20)">L IFG + L IPL</text><text x="292.45" y="335.20" class="rl" style="font-size:3.4px" text-anchor="end" transform="rotate(-90 292.45 335.20)">PCUN+PCC</text><text x="298.27" y="335.20" class="rl" style="font-size:3.4px" text-anchor="end" transform="rotate(-90 298.27 335.20)">MFG</text><text x="301.68" y="335.20" class="rl" style="font-size:2.8px" text-anchor="end" transform="rotate(-90 301.68 335.20)">SFGmed.L</text><text x="304.01" y="338.80" class="rl" style="font-size:2.6px" text-anchor="end" transform="rotate(-90 304.01 338.80)">+PCC</text><text x="308.31" y="335.20" class="rl" style="font-size:3.4px" text-anchor="end" transform="rotate(-90 308.31 335.20)">mPFC</text>
<rect x="345.80" y="217.30" width="115.69" height="115.00" fill="#9bce69"/><line x1="350.83" y1="217.30" x2="350.83" y2="332.30" stroke="#d3edbd" stroke-width="0.6"/><line x1="345.80" y1="222.30" x2="461.49" y2="222.30" stroke="#d3edbd" stroke-width="0.6"/><line x1="355.86" y1="217.30" x2="355.86" y2="332.30" stroke="#d3edbd" stroke-width="0.6"/><line x1="345.80" y1="227.30" x2="461.49" y2="227.30" stroke="#d3edbd" stroke-width="0.6"/><line x1="360.89" y1="217.30" x2="360.89" y2="332.30" stroke="#d3edbd" stroke-width="0.6"/><line x1="345.80" y1="232.30" x2="461.49" y2="232.30" stroke="#d3edbd" stroke-width="0.6"/><line x1="365.92" y1="217.30" x2="365.92" y2="332.30" stroke="#d3edbd" stroke-width="0.6"/><line x1="345.80" y1="237.30" x2="461.49" y2="237.30" stroke="#d3edbd" stroke-width="0.6"/><line x1="370.95" y1="217.30" x2="370.95" y2="332.30" stroke="#d3edbd" stroke-width="0.6"/><line x1="345.80" y1="242.30" x2="461.49" y2="242.30" stroke="#d3edbd" stroke-width="0.6"/><line x1="375.98" y1="217.30" x2="375.98" y2="332.30" stroke="#d3edbd" stroke-width="0.6"/><line x1="345.80" y1="247.30" x2="461.49" y2="247.30" stroke="#d3edbd" stroke-width="0.6"/><line x1="381.01" y1="217.30" x2="381.01" y2="332.30" stroke="#d3edbd" stroke-width="0.6"/><line x1="345.80" y1="252.30" x2="461.49" y2="252.30" stroke="#d3edbd" stroke-width="0.6"/><line x1="386.04" y1="217.30" x2="386.04" y2="332.30" stroke="#d3edbd" stroke-width="0.6"/><line x1="345.80" y1="257.30" x2="461.49" y2="257.30" stroke="#d3edbd" stroke-width="0.6"/><line x1="391.07" y1="217.30" x2="391.07" y2="332.30" stroke="#d3edbd" stroke-width="0.6"/><line x1="345.80" y1="262.30" x2="461.49" y2="262.30" stroke="#d3edbd" stroke-width="0.6"/><line x1="396.10" y1="217.30" x2="396.10" y2="332.30" stroke="#d3edbd" stroke-width="0.6"/><line x1="345.80" y1="267.30" x2="461.49" y2="267.30" stroke="#d3edbd" stroke-width="0.6"/><line x1="401.13" y1="217.30" x2="401.13" y2="332.30" stroke="#d3edbd" stroke-width="0.6"/><line x1="345.80" y1="272.30" x2="461.49" y2="272.30" stroke="#d3edbd" stroke-width="0.6"/><line x1="406.16" y1="217.30" x2="406.16" y2="332.30" stroke="#d3edbd" stroke-width="0.6"/><line x1="345.80" y1="277.30" x2="461.49" y2="277.30" stroke="#d3edbd" stroke-width="0.6"/><line x1="411.19" y1="217.30" x2="411.19" y2="332.30" stroke="#d3edbd" stroke-width="0.6"/><line x1="345.80" y1="282.30" x2="461.49" y2="282.30" stroke="#d3edbd" stroke-width="0.6"/><line x1="416.22" y1="217.30" x2="416.22" y2="332.30" stroke="#d3edbd" stroke-width="0.6"/><line x1="345.80" y1="287.30" x2="461.49" y2="287.30" stroke="#d3edbd" stroke-width="0.6"/><line x1="421.25" y1="217.30" x2="421.25" y2="332.30" stroke="#d3edbd" stroke-width="0.6"/><line x1="345.80" y1="292.30" x2="461.49" y2="292.30" stroke="#d3edbd" stroke-width="0.6"/><line x1="426.28" y1="217.30" x2="426.28" y2="332.30" stroke="#d3edbd" stroke-width="0.6"/><line x1="345.80" y1="297.30" x2="461.49" y2="297.30" stroke="#d3edbd" stroke-width="0.6"/><line x1="431.31" y1="217.30" x2="431.31" y2="332.30" stroke="#d3edbd" stroke-width="0.6"/><line x1="345.80" y1="302.30" x2="461.49" y2="302.30" stroke="#d3edbd" stroke-width="0.6"/><line x1="436.34" y1="217.30" x2="436.34" y2="332.30" stroke="#d3edbd" stroke-width="0.6"/><line x1="345.80" y1="307.30" x2="461.49" y2="307.30" stroke="#d3edbd" stroke-width="0.6"/><line x1="441.37" y1="217.30" x2="441.37" y2="332.30" stroke="#d3edbd" stroke-width="0.6"/><line x1="345.80" y1="312.30" x2="461.49" y2="312.30" stroke="#d3edbd" stroke-width="0.6"/><line x1="446.40" y1="217.30" x2="446.40" y2="332.30" stroke="#d3edbd" stroke-width="0.6"/><line x1="345.80" y1="317.30" x2="461.49" y2="317.30" stroke="#d3edbd" stroke-width="0.6"/><line x1="451.43" y1="217.30" x2="451.43" y2="332.30" stroke="#d3edbd" stroke-width="0.6"/><line x1="345.80" y1="322.30" x2="461.49" y2="322.30" stroke="#d3edbd" stroke-width="0.6"/><line x1="456.46" y1="217.30" x2="456.46" y2="332.30" stroke="#d3edbd" stroke-width="0.6"/><line x1="345.80" y1="327.30" x2="461.49" y2="327.30" stroke="#d3edbd" stroke-width="0.6"/><rect x="441.37" y="222.30" width="5.03" height="5.00" fill="#2747a8"/><rect x="350.83" y="312.30" width="5.03" height="5.00" fill="#2747a8"/><rect x="426.28" y="262.30" width="5.03" height="5.00" fill="#2747a8"/><rect x="391.07" y="297.30" width="5.03" height="5.00" fill="#2747a8"/><rect x="456.46" y="297.30" width="5.03" height="5.00" fill="#2747a8"/><rect x="426.28" y="327.30" width="5.03" height="5.00" fill="#2747a8"/><line x1="350.83" y1="217.30" x2="350.83" y2="332.30" stroke="#2f8232" stroke-width="0.75"/><line x1="345.80" y1="222.30" x2="461.49" y2="222.30" stroke="#2f8232" stroke-width="0.75"/><line x1="375.98" y1="217.30" x2="375.98" y2="332.30" stroke="#2f8232" stroke-width="0.75"/><line x1="345.80" y1="247.30" x2="461.49" y2="247.30" stroke="#2f8232" stroke-width="0.75"/><line x1="396.10" y1="217.30" x2="396.10" y2="332.30" stroke="#2f8232" stroke-width="0.75"/><line x1="345.80" y1="267.30" x2="461.49" y2="267.30" stroke="#2f8232" stroke-width="0.75"/><line x1="416.22" y1="217.30" x2="416.22" y2="332.30" stroke="#2f8232" stroke-width="0.75"/><line x1="345.80" y1="287.30" x2="461.49" y2="287.30" stroke="#2f8232" stroke-width="0.75"/><line x1="426.28" y1="217.30" x2="426.28" y2="332.30" stroke="#2f8232" stroke-width="0.75"/><line x1="345.80" y1="297.30" x2="461.49" y2="297.30" stroke="#2f8232" stroke-width="0.75"/><line x1="431.31" y1="217.30" x2="431.31" y2="332.30" stroke="#2f8232" stroke-width="0.75"/><line x1="345.80" y1="302.30" x2="461.49" y2="302.30" stroke="#2f8232" stroke-width="0.75"/><line x1="441.37" y1="217.30" x2="441.37" y2="332.30" stroke="#2f8232" stroke-width="0.75"/><line x1="345.80" y1="312.30" x2="461.49" y2="312.30" stroke="#2f8232" stroke-width="0.75"/><rect x="345.80" y="217.30" width="115.69" height="115.00" fill="none" stroke="#6a7a6a" stroke-width="0.6"/><text x="348.60" y="221.40" class="num" text-anchor="middle">1</text><text x="353.63" y="226.40" class="num" text-anchor="middle">2</text><text x="358.66" y="231.40" class="num" text-anchor="middle">3</text><text x="363.69" y="236.40" class="num" text-anchor="middle">4</text><text x="368.72" y="241.40" class="num" text-anchor="middle">5</text><text x="373.75" y="246.40" class="num" text-anchor="middle">6</text><text x="378.78" y="251.40" class="num" text-anchor="middle">7</text><text x="383.81" y="256.40" class="num" text-anchor="middle">8</text><text x="388.84" y="261.40" class="num" text-anchor="middle">9</text><text x="393.87" y="266.40" class="num" text-anchor="middle">10</text><text x="398.90" y="271.40" class="num" text-anchor="middle">11</text><text x="403.93" y="276.40" class="num" text-anchor="middle">12</text><text x="408.96" y="281.40" class="num" text-anchor="middle">13</text><text x="413.99" y="286.40" class="num" text-anchor="middle">14</text><text x="419.02" y="291.40" class="num" text-anchor="middle">15</text><text x="424.05" y="296.40" class="num" text-anchor="middle">16</text><text x="429.08" y="301.40" class="num" text-anchor="middle">17</text><text x="434.11" y="306.40" class="num" text-anchor="middle">18</text><text x="439.14" y="311.40" class="num" text-anchor="middle">19</text><text x="444.17" y="316.40" class="num" text-anchor="middle">20</text><text x="449.20" y="321.40" class="num" text-anchor="middle">21</text><text x="454.23" y="326.40" class="num" text-anchor="middle">22</text><text x="459.26" y="331.40" class="num" text-anchor="middle">23</text><text x="403.65" y="215.90" class="ht" text-anchor="middle">Results of State 5</text><text x="345.50" y="220.96" class="rl" style="font-size:3.4px" text-anchor="end">STG</text><text x="345.50" y="225.96" class="rl" style="font-size:3.4px" text-anchor="end">Fusiform</text><text x="345.50" y="230.96" class="rl" style="font-size:3.4px" text-anchor="end">Cuneus</text><text x="345.50" y="235.96" class="rl" style="font-size:3.4px" text-anchor="end">PCC</text><text x="345.50" y="240.96" class="rl" style="font-size:3.4px" text-anchor="end">Calcarine</text><text x="345.50" y="245.96" class="rl" style="font-size:3.4px" text-anchor="end">Occipital_Mid</text><text x="345.50" y="250.96" class="rl" style="font-size:3.4px" text-anchor="end">Postcentral</text><text x="345.50" y="255.96" class="rl" style="font-size:3.4px" text-anchor="end">Precentral_L</text><text x="345.50" y="260.96" class="rl" style="font-size:3.4px" text-anchor="end">SMA</text><text x="345.50" y="265.96" class="rl" style="font-size:3.4px" text-anchor="end">Precentral_R</text><text x="345.50" y="270.96" class="rl" style="font-size:3.4px" text-anchor="end">AG+MFG.L</text><text x="345.50" y="275.96" class="rl" style="font-size:3.4px" text-anchor="end">Parietal Lobe</text><text x="345.50" y="280.96" class="rl" style="font-size:3.4px" text-anchor="end">Parietal_Sup</text><text x="345.50" y="285.96" class="rl" style="font-size:3.4px" text-anchor="end">PCUN</text><text x="345.50" y="289.78" class="rl" style="font-size:2.6px" text-anchor="end">IFG</text><text x="341.10" y="291.58" class="rl" style="font-size:2.6px" text-anchor="end">MFG</text><text x="341.50" y="295.08" class="rl" style="font-size:2.6px" text-anchor="end">+Insula</text><text x="341.50" y="297.58" class="rl" style="font-size:2.6px" text-anchor="end">+ACC</text><text x="345.50" y="301.76" class="rl" style="font-size:3.4px" text-anchor="end">SFGmed.L</text><text x="341.90" y="305.18" class="rl" style="font-size:2.6px" text-anchor="end">R AG</text><text x="344.50" y="307.38" class="rl" style="font-size:2.6px" text-anchor="end">+R SFG</text><text x="345.50" y="311.56" class="rl" style="font-size:3.4px" text-anchor="end">L IFG + L IPL</text><text x="345.50" y="315.96" class="rl" style="font-size:3.4px" text-anchor="end">PCUN+PCC</text><text x="345.50" y="321.76" class="rl" style="font-size:3.4px" text-anchor="end">MFG</text><text x="345.50" y="325.15" class="rl" style="font-size:2.8px" text-anchor="end">SFGmed.L</text><text x="341.90" y="327.48" class="rl" style="font-size:2.6px" text-anchor="end">+PCC</text><text x="345.50" y="331.76" class="rl" style="font-size:3.4px" text-anchor="end">mPFC</text><text x="349.47" y="333.30" class="rl" style="font-size:3.4px" text-anchor="end" transform="rotate(-90 349.47 333.30)">STG</text><text x="354.50" y="333.30" class="rl" style="font-size:3.4px" text-anchor="end" transform="rotate(-90 354.50 333.30)">Fusiform</text><text x="359.53" y="333.30" class="rl" style="font-size:3.4px" text-anchor="end" transform="rotate(-90 359.53 333.30)">Cuneus</text><text x="364.56" y="333.30" class="rl" style="font-size:3.4px" text-anchor="end" transform="rotate(-90 364.56 333.30)">PCC</text><text x="369.59" y="333.30" class="rl" style="font-size:3.4px" text-anchor="end" transform="rotate(-90 369.59 333.30)">Calcarine</text><text x="374.62" y="333.30" class="rl" style="font-size:3.4px" text-anchor="end" transform="rotate(-90 374.62 333.30)">Occipital_Mid</text><text x="379.65" y="333.30" class="rl" style="font-size:3.4px" text-anchor="end" transform="rotate(-90 379.65 333.30)">Postcentral</text><text x="384.68" y="333.30" class="rl" style="font-size:3.4px" text-anchor="end" transform="rotate(-90 384.68 333.30)">Precentral_L</text><text x="389.71" y="333.30" class="rl" style="font-size:3.4px" text-anchor="end" transform="rotate(-90 389.71 333.30)">SMA</text><text x="394.74" y="333.30" class="rl" style="font-size:3.4px" text-anchor="end" transform="rotate(-90 394.74 333.30)">Precentral_R</text><text x="399.77" y="333.30" class="rl" style="font-size:3.4px" text-anchor="end" transform="rotate(-90 399.77 333.30)">AG+MFG.L</text><text x="404.80" y="333.30" class="rl" style="font-size:3.4px" text-anchor="end" transform="rotate(-90 404.80 333.30)">Parietal Lobe</text><text x="409.83" y="333.30" class="rl" style="font-size:3.4px" text-anchor="end" transform="rotate(-90 409.83 333.30)">Parietal_Sup</text><text x="414.86" y="333.30" class="rl" style="font-size:3.4px" text-anchor="end" transform="rotate(-90 414.86 333.30)">PCUN</text><text x="418.72" y="333.30" class="rl" style="font-size:2.6px" text-anchor="end" transform="rotate(-90 418.72 333.30)">IFG</text><text x="420.52" y="337.70" class="rl" style="font-size:2.6px" text-anchor="end" transform="rotate(-90 420.52 337.70)">MFG</text><text x="424.05" y="337.30" class="rl" style="font-size:2.6px" text-anchor="end" transform="rotate(-90 424.05 337.30)">+Insula</text><text x="426.55" y="337.30" class="rl" style="font-size:2.6px" text-anchor="end" transform="rotate(-90 426.55 337.30)">+ACC</text><text x="430.75" y="333.30" class="rl" style="font-size:3.4px" text-anchor="end" transform="rotate(-90 430.75 333.30)">SFGmed.L</text><text x="434.21" y="336.90" class="rl" style="font-size:2.6px" text-anchor="end" transform="rotate(-90 434.21 336.90)">R AG</text><text x="436.41" y="334.30" class="rl" style="font-size:2.6px" text-anchor="end" transform="rotate(-90 436.41 334.30)">+R SFG</text><text x="440.61" y="333.30" class="rl" style="font-size:3.4px" text-anchor="end" transform="rotate(-90 440.61 333.30)">L IFG + L IPL</text><text x="445.04" y="333.30" class="rl" style="font-size:3.4px" text-anchor="end" transform="rotate(-90 445.04 333.30)">PCUN+PCC</text><text x="450.87" y="333.30" class="rl" style="font-size:3.4px" text-anchor="end" transform="rotate(-90 450.87 333.30)">MFG</text><text x="454.30" y="333.30" class="rl" style="font-size:2.8px" text-anchor="end" transform="rotate(-90 454.30 333.30)">SFGmed.L</text><text x="456.63" y="336.90" class="rl" style="font-size:2.6px" text-anchor="end" transform="rotate(-90 456.63 336.90)">+PCC</text><text x="460.93" y="333.30" class="rl" style="font-size:3.4px" text-anchor="end" transform="rotate(-90 460.93 333.30)">mPFC</text>
<rect x="527.00" y="217.40" width="114.31" height="115.00" fill="#9bce69"/><line x1="531.97" y1="217.40" x2="531.97" y2="332.40" stroke="#d3edbd" stroke-width="0.6"/><line x1="527.00" y1="222.40" x2="641.31" y2="222.40" stroke="#d3edbd" stroke-width="0.6"/><line x1="536.94" y1="217.40" x2="536.94" y2="332.40" stroke="#d3edbd" stroke-width="0.6"/><line x1="527.00" y1="227.40" x2="641.31" y2="227.40" stroke="#d3edbd" stroke-width="0.6"/><line x1="541.91" y1="217.40" x2="541.91" y2="332.40" stroke="#d3edbd" stroke-width="0.6"/><line x1="527.00" y1="232.40" x2="641.31" y2="232.40" stroke="#d3edbd" stroke-width="0.6"/><line x1="546.88" y1="217.40" x2="546.88" y2="332.40" stroke="#d3edbd" stroke-width="0.6"/><line x1="527.00" y1="237.40" x2="641.31" y2="237.40" stroke="#d3edbd" stroke-width="0.6"/><line x1="551.85" y1="217.40" x2="551.85" y2="332.40" stroke="#d3edbd" stroke-width="0.6"/><line x1="527.00" y1="242.40" x2="641.31" y2="242.40" stroke="#d3edbd" stroke-width="0.6"/><line x1="556.82" y1="217.40" x2="556.82" y2="332.40" stroke="#d3edbd" stroke-width="0.6"/><line x1="527.00" y1="247.40" x2="641.31" y2="247.40" stroke="#d3edbd" stroke-width="0.6"/><line x1="561.79" y1="217.40" x2="561.79" y2="332.40" stroke="#d3edbd" stroke-width="0.6"/><line x1="527.00" y1="252.40" x2="641.31" y2="252.40" stroke="#d3edbd" stroke-width="0.6"/><line x1="566.76" y1="217.40" x2="566.76" y2="332.40" stroke="#d3edbd" stroke-width="0.6"/><line x1="527.00" y1="257.40" x2="641.31" y2="257.40" stroke="#d3edbd" stroke-width="0.6"/><line x1="571.73" y1="217.40" x2="571.73" y2="332.40" stroke="#d3edbd" stroke-width="0.6"/><line x1="527.00" y1="262.40" x2="641.31" y2="262.40" stroke="#d3edbd" stroke-width="0.6"/><line x1="576.70" y1="217.40" x2="576.70" y2="332.40" stroke="#d3edbd" stroke-width="0.6"/><line x1="527.00" y1="267.40" x2="641.31" y2="267.40" stroke="#d3edbd" stroke-width="0.6"/><line x1="581.67" y1="217.40" x2="581.67" y2="332.40" stroke="#d3edbd" stroke-width="0.6"/><line x1="527.00" y1="272.40" x2="641.31" y2="272.40" stroke="#d3edbd" stroke-width="0.6"/><line x1="586.64" y1="217.40" x2="586.64" y2="332.40" stroke="#d3edbd" stroke-width="0.6"/><line x1="527.00" y1="277.40" x2="641.31" y2="277.40" stroke="#d3edbd" stroke-width="0.6"/><line x1="591.61" y1="217.40" x2="591.61" y2="332.40" stroke="#d3edbd" stroke-width="0.6"/><line x1="527.00" y1="282.40" x2="641.31" y2="282.40" stroke="#d3edbd" stroke-width="0.6"/><line x1="596.58" y1="217.40" x2="596.58" y2="332.40" stroke="#d3edbd" stroke-width="0.6"/><line x1="527.00" y1="287.40" x2="641.31" y2="287.40" stroke="#d3edbd" stroke-width="0.6"/><line x1="601.55" y1="217.40" x2="601.55" y2="332.40" stroke="#d3edbd" stroke-width="0.6"/><line x1="527.00" y1="292.40" x2="641.31" y2="292.40" stroke="#d3edbd" stroke-width="0.6"/><line x1="606.52" y1="217.40" x2="606.52" y2="332.40" stroke="#d3edbd" stroke-width="0.6"/><line x1="527.00" y1="297.40" x2="641.31" y2="297.40" stroke="#d3edbd" stroke-width="0.6"/><line x1="611.49" y1="217.40" x2="611.49" y2="332.40" stroke="#d3edbd" stroke-width="0.6"/><line x1="527.00" y1="302.40" x2="641.31" y2="302.40" stroke="#d3edbd" stroke-width="0.6"/><line x1="616.46" y1="217.40" x2="616.46" y2="332.40" stroke="#d3edbd" stroke-width="0.6"/><line x1="527.00" y1="307.40" x2="641.31" y2="307.40" stroke="#d3edbd" stroke-width="0.6"/><line x1="621.43" y1="217.40" x2="621.43" y2="332.40" stroke="#d3edbd" stroke-width="0.6"/><line x1="527.00" y1="312.40" x2="641.31" y2="312.40" stroke="#d3edbd" stroke-width="0.6"/><line x1="626.40" y1="217.40" x2="626.40" y2="332.40" stroke="#d3edbd" stroke-width="0.6"/><line x1="527.00" y1="317.40" x2="641.31" y2="317.40" stroke="#d3edbd" stroke-width="0.6"/><line x1="631.37" y1="217.40" x2="631.37" y2="332.40" stroke="#d3edbd" stroke-width="0.6"/><line x1="527.00" y1="322.40" x2="641.31" y2="322.40" stroke="#d3edbd" stroke-width="0.6"/><line x1="636.34" y1="217.40" x2="636.34" y2="332.40" stroke="#d3edbd" stroke-width="0.6"/><line x1="527.00" y1="327.40" x2="641.31" y2="327.40" stroke="#d3edbd" stroke-width="0.6"/><rect x="561.79" y="222.40" width="4.97" height="5.00" fill="#2747a8"/><rect x="531.97" y="252.40" width="4.97" height="5.00" fill="#2747a8"/><rect x="566.76" y="227.40" width="4.97" height="5.00" fill="#2747a8"/><rect x="536.94" y="257.40" width="4.97" height="5.00" fill="#2747a8"/><rect x="631.37" y="247.40" width="4.97" height="5.00" fill="#2747a8"/><rect x="556.82" y="322.40" width="4.97" height="5.00" fill="#2747a8"/><rect x="586.64" y="252.40" width="4.97" height="5.00" fill="#2747a8"/><rect x="586.64" y="257.40" width="4.97" height="5.00" fill="#1e2c7a"/><rect x="561.79" y="277.40" width="4.97" height="5.00" fill="#2747a8"/><rect x="566.76" y="277.40" width="4.97" height="5.00" fill="#1e2c7a"/><rect x="591.61" y="272.40" width="4.97" height="5.00" fill="#a01818"/><rect x="591.61" y="277.40" width="4.97" height="5.00" fill="#a01818"/><rect x="581.67" y="282.40" width="4.97" height="5.00" fill="#a01818"/><rect x="586.64" y="282.40" width="4.97" height="5.00" fill="#a01818"/><line x1="531.97" y1="217.40" x2="531.97" y2="332.40" stroke="#2f8232" stroke-width="0.75"/><line x1="527.00" y1="222.40" x2="641.31" y2="222.40" stroke="#2f8232" stroke-width="0.75"/><line x1="556.82" y1="217.40" x2="556.82" y2="332.40" stroke="#2f8232" stroke-width="0.75"/><line x1="527.00" y1="247.40" x2="641.31" y2="247.40" stroke="#2f8232" stroke-width="0.75"/><line x1="576.70" y1="217.40" x2="576.70" y2="332.40" stroke="#2f8232" stroke-width="0.75"/><line x1="527.00" y1="267.40" x2="641.31" y2="267.40" stroke="#2f8232" stroke-width="0.75"/><line x1="596.58" y1="217.40" x2="596.58" y2="332.40" stroke="#2f8232" stroke-width="0.75"/><line x1="527.00" y1="287.40" x2="641.31" y2="287.40" stroke="#2f8232" stroke-width="0.75"/><line x1="606.52" y1="217.40" x2="606.52" y2="332.40" stroke="#2f8232" stroke-width="0.75"/><line x1="527.00" y1="297.40" x2="641.31" y2="297.40" stroke="#2f8232" stroke-width="0.75"/><line x1="611.49" y1="217.40" x2="611.49" y2="332.40" stroke="#2f8232" stroke-width="0.75"/><line x1="527.00" y1="302.40" x2="641.31" y2="302.40" stroke="#2f8232" stroke-width="0.75"/><line x1="621.43" y1="217.40" x2="621.43" y2="332.40" stroke="#2f8232" stroke-width="0.75"/><line x1="527.00" y1="312.40" x2="641.31" y2="312.40" stroke="#2f8232" stroke-width="0.75"/><rect x="527.00" y="217.40" width="114.31" height="115.00" fill="none" stroke="#6a7a6a" stroke-width="0.6"/><text x="529.80" y="221.50" class="num" text-anchor="middle">1</text><text x="534.77" y="226.50" class="num" text-anchor="middle">2</text><text x="539.74" y="231.50" class="num" text-anchor="middle">3</text><text x="544.71" y="236.50" class="num" text-anchor="middle">4</text><text x="549.68" y="241.50" class="num" text-anchor="middle">5</text><text x="554.65" y="246.50" class="num" text-anchor="middle">6</text><text x="559.62" y="251.50" class="num" text-anchor="middle">7</text><text x="564.59" y="256.50" class="num" text-anchor="middle">8</text><text x="569.56" y="261.50" class="num" text-anchor="middle">9</text><text x="574.53" y="266.50" class="num" text-anchor="middle">10</text><text x="579.50" y="271.50" class="num" text-anchor="middle">11</text><text x="584.47" y="276.50" class="num" text-anchor="middle">12</text><text x="589.44" y="281.50" class="num" text-anchor="middle">13</text><text x="594.41" y="286.50" class="num" text-anchor="middle">14</text><text x="599.38" y="291.50" class="num" text-anchor="middle">15</text><text x="604.35" y="296.50" class="num" text-anchor="middle">16</text><text x="609.32" y="301.50" class="num" text-anchor="middle">17</text><text x="614.29" y="306.50" class="num" text-anchor="middle">18</text><text x="619.26" y="311.50" class="num" text-anchor="middle">19</text><text x="624.23" y="316.50" class="num" text-anchor="middle">20</text><text x="629.20" y="321.50" class="num" text-anchor="middle">21</text><text x="634.17" y="326.50" class="num" text-anchor="middle">22</text><text x="639.14" y="331.50" class="num" text-anchor="middle">23</text><text x="584.15" y="216.00" class="ht" text-anchor="middle">Results of State 4</text><text x="526.70" y="221.06" class="rl" style="font-size:3.4px" text-anchor="end">STG</text><text x="526.70" y="226.06" class="rl" style="font-size:3.4px" text-anchor="end">Fusiform</text><text x="526.70" y="231.06" class="rl" style="font-size:3.4px" text-anchor="end">Cuneus</text><text x="526.70" y="236.06" class="rl" style="font-size:3.4px" text-anchor="end">PCC</text><text x="526.70" y="241.06" class="rl" style="font-size:3.4px" text-anchor="end">Calcarine</text><text x="526.70" y="246.06" class="rl" style="font-size:3.4px" text-anchor="end">Occipital_Mid</text><text x="526.70" y="251.06" class="rl" style="font-size:3.4px" text-anchor="end">Postcentral</text><text x="526.70" y="256.06" class="rl" style="font-size:3.4px" text-anchor="end">Precentral_L</text><text x="526.70" y="261.06" class="rl" style="font-size:3.4px" text-anchor="end">SMA</text><text x="526.70" y="266.06" class="rl" style="font-size:3.4px" text-anchor="end">Precentral_R</text><text x="526.70" y="271.06" class="rl" style="font-size:3.4px" text-anchor="end">AG+MFG.L</text><text x="526.70" y="276.06" class="rl" style="font-size:3.4px" text-anchor="end">Parietal Lobe</text><text x="526.70" y="281.06" class="rl" style="font-size:3.4px" text-anchor="end">Parietal_Sup</text><text x="526.70" y="286.06" class="rl" style="font-size:3.4px" text-anchor="end">PCUN</text><text x="526.70" y="289.88" class="rl" style="font-size:2.6px" text-anchor="end">IFG</text><text x="522.30" y="291.68" class="rl" style="font-size:2.6px" text-anchor="end">MFG</text><text x="522.70" y="295.18" class="rl" style="font-size:2.6px" text-anchor="end">+Insula</text><text x="522.70" y="297.68" class="rl" style="font-size:2.6px" text-anchor="end">+ACC</text><text x="526.70" y="301.86" class="rl" style="font-size:3.4px" text-anchor="end">SFGmed.L</text><text x="523.10" y="305.28" class="rl" style="font-size:2.6px" text-anchor="end">R AG</text><text x="525.70" y="307.48" class="rl" style="font-size:2.6px" text-anchor="end">+R SFG</text><text x="526.70" y="311.66" class="rl" style="font-size:3.4px" text-anchor="end">L IFG + L IPL</text><text x="526.70" y="316.06" class="rl" style="font-size:3.4px" text-anchor="end">PCUN+PCC</text><text x="526.70" y="321.86" class="rl" style="font-size:3.4px" text-anchor="end">MFG</text><text x="526.70" y="325.25" class="rl" style="font-size:2.8px" text-anchor="end">SFGmed.L</text><text x="523.10" y="327.58" class="rl" style="font-size:2.6px" text-anchor="end">+PCC</text><text x="526.70" y="331.86" class="rl" style="font-size:3.4px" text-anchor="end">mPFC</text><text x="530.64" y="333.40" class="rl" style="font-size:3.4px" text-anchor="end" transform="rotate(-90 530.64 333.40)">STG</text><text x="535.61" y="333.40" class="rl" style="font-size:3.4px" text-anchor="end" transform="rotate(-90 535.61 333.40)">Fusiform</text><text x="540.58" y="333.40" class="rl" style="font-size:3.4px" text-anchor="end" transform="rotate(-90 540.58 333.40)">Cuneus</text><text x="545.55" y="333.40" class="rl" style="font-size:3.4px" text-anchor="end" transform="rotate(-90 545.55 333.40)">PCC</text><text x="550.52" y="333.40" class="rl" style="font-size:3.4px" text-anchor="end" transform="rotate(-90 550.52 333.40)">Calcarine</text><text x="555.49" y="333.40" class="rl" style="font-size:3.4px" text-anchor="end" transform="rotate(-90 555.49 333.40)">Occipital_Mid</text><text x="560.46" y="333.40" class="rl" style="font-size:3.4px" text-anchor="end" transform="rotate(-90 560.46 333.40)">Postcentral</text><text x="565.43" y="333.40" class="rl" style="font-size:3.4px" text-anchor="end" transform="rotate(-90 565.43 333.40)">Precentral_L</text><text x="570.40" y="333.40" class="rl" style="font-size:3.4px" text-anchor="end" transform="rotate(-90 570.40 333.40)">SMA</text><text x="575.37" y="333.40" class="rl" style="font-size:3.4px" text-anchor="end" transform="rotate(-90 575.37 333.40)">Precentral_R</text><text x="580.34" y="333.40" class="rl" style="font-size:3.4px" text-anchor="end" transform="rotate(-90 580.34 333.40)">AG+MFG.L</text><text x="585.31" y="333.40" class="rl" style="font-size:3.4px" text-anchor="end" transform="rotate(-90 585.31 333.40)">Parietal Lobe</text><text x="590.28" y="333.40" class="rl" style="font-size:3.4px" text-anchor="end" transform="rotate(-90 590.28 333.40)">Parietal_Sup</text><text x="595.25" y="333.40" class="rl" style="font-size:3.4px" text-anchor="end" transform="rotate(-90 595.25 333.40)">PCUN</text><text x="599.05" y="333.40" class="rl" style="font-size:2.6px" text-anchor="end" transform="rotate(-90 599.05 333.40)">IFG</text><text x="600.85" y="337.80" class="rl" style="font-size:2.6px" text-anchor="end" transform="rotate(-90 600.85 337.80)">MFG</text><text x="604.32" y="337.40" class="rl" style="font-size:2.6px" text-anchor="end" transform="rotate(-90 604.32 337.40)">+Insula</text><text x="606.82" y="337.40" class="rl" style="font-size:2.6px" text-anchor="end" transform="rotate(-90 606.82 337.40)">+ACC</text><text x="610.96" y="333.40" class="rl" style="font-size:3.4px" text-anchor="end" transform="rotate(-90 610.96 333.40)">SFGmed.L</text><text x="614.36" y="337.00" class="rl" style="font-size:2.6px" text-anchor="end" transform="rotate(-90 614.36 337.00)">R AG</text><text x="616.56" y="334.40" class="rl" style="font-size:2.6px" text-anchor="end" transform="rotate(-90 616.56 334.40)">+R SFG</text><text x="620.70" y="333.40" class="rl" style="font-size:3.4px" text-anchor="end" transform="rotate(-90 620.70 333.40)">L IFG + L IPL</text><text x="625.07" y="333.40" class="rl" style="font-size:3.4px" text-anchor="end" transform="rotate(-90 625.07 333.40)">PCUN+PCC</text><text x="630.84" y="333.40" class="rl" style="font-size:3.4px" text-anchor="end" transform="rotate(-90 630.84 333.40)">MFG</text><text x="634.21" y="333.40" class="rl" style="font-size:2.8px" text-anchor="end" transform="rotate(-90 634.21 333.40)">SFGmed.L</text><text x="636.54" y="337.00" class="rl" style="font-size:2.6px" text-anchor="end" transform="rotate(-90 636.54 337.00)">+PCC</text><text x="640.78" y="333.40" class="rl" style="font-size:3.4px" text-anchor="end" transform="rotate(-90 640.78 333.40)">mPFC</text>
<text x="19.6" y="226.7" class="nl" dy="1.9" text-anchor="middle" transform="rotate(-90 19.6 226.7)">AUD</text>
<text x="19.6" y="242" class="nl" dy="1.9" text-anchor="middle" transform="rotate(-90 19.6 242)">VIS</text>
<text x="19.6" y="262" class="nl" dy="1.9" text-anchor="middle" transform="rotate(-90 19.6 262)">SMN</text>
<text x="19.6" y="282.3" class="nl" dy="1.9" text-anchor="middle" transform="rotate(-90 19.6 282.3)">DAN</text>
<text x="19.6" y="327" class="nl" dy="1.9" text-anchor="middle" transform="rotate(-90 19.6 327)">DMN</text>
<text x="18.6" y="293.6" class="nl" style="font-weight:normal;font-size:4.4px" text-anchor="middle">VAN</text>
<text x="17.2" y="303.2" class="nl" style="font-size:4.3px" text-anchor="middle">Limbic</text>
<text x="19.1" y="306.9" class="nl" style="font-size:4.3px" text-anchor="middle">FPN</text>
<text x="44.1" y="359.4" class="nl" dy="1.7" style="font-size:5px" text-anchor="middle" transform="rotate(-90 44.1 359.4)">AUD</text>
<text x="58.7" y="358" class="nl" dy="1.7" style="font-size:5px" text-anchor="middle" transform="rotate(-90 58.7 358)">VIS</text>
<text x="78.4" y="358.4" class="nl" dy="1.7" style="font-size:5px" text-anchor="middle" transform="rotate(-90 78.4 358.4)">SMN</text>
<text x="98" y="360.3" class="nl" dy="1.7" style="font-size:5px" text-anchor="middle" transform="rotate(-90 98 360.3)">DAN</text>
<text x="112.6" y="359.8" class="nl" dy="1.7" style="font-size:5px" text-anchor="middle" transform="rotate(-90 112.6 359.8)">VAN</text>
<text x="124.4" y="361.5" class="nl" dy="1.7" style="font-size:5px" text-anchor="middle" transform="rotate(-90 124.4 361.5)">Limbic</text>
<text x="128.9" y="357" class="nl" dy="1.7" style="font-size:5px" text-anchor="middle" transform="rotate(-90 128.9 357)">FPN</text>
<text x="144.5" y="359.8" class="nl" dy="1.7" style="font-size:5px" text-anchor="middle" transform="rotate(-90 144.5 359.8)">DMN</text>
<text x="99.5" y="381" class="pl" text-anchor="middle">a</text>
<text x="250.5" y="381" class="pl" text-anchor="middle">b</text>
<text x="403.8" y="381" class="pl" text-anchor="middle">c</text>
<text x="584.4" y="381" class="pl" text-anchor="middle">d</text>
<defs><linearGradient id="cb" x1="0" y1="0" x2="0" y2="1">
<stop offset="0" stop-color="#7f1416"/><stop offset="0.12" stop-color="#e0201c"/><stop offset="0.25" stop-color="#f58a1e"/>
<stop offset="0.37" stop-color="#f2e22a"/><stop offset="0.47" stop-color="#a6d23c"/><stop offset="0.55" stop-color="#5dbf4a"/>
<stop offset="0.68" stop-color="#2aa7d9"/><stop offset="0.8" stop-color="#2a5fbd"/><stop offset="1" stop-color="#1a2a82"/>
</linearGradient></defs>
<rect x="661.3" y="168.5" width="7.4" height="86" fill="url(#cb)"/>
<text x="655" y="173.20" style="font-size:2.6px;fill:#444" text-anchor="middle">5</text>
<text x="655" y="180.69" style="font-size:2.6px;fill:#444" text-anchor="middle">4</text>
<text x="655" y="188.18" style="font-size:2.6px;fill:#444" text-anchor="middle">3</text>
<text x="655" y="195.67" style="font-size:2.6px;fill:#444" text-anchor="middle">2</text>
<text x="655" y="203.16" style="font-size:2.6px;fill:#444" text-anchor="middle">1</text>
<text x="655" y="210.65" style="font-size:2.6px;fill:#444" text-anchor="middle">0</text>
<text x="655" y="218.14" style="font-size:2.6px;fill:#444" text-anchor="middle">-1</text>
<text x="655" y="225.63" style="font-size:2.6px;fill:#444" text-anchor="middle">-2</text>
<text x="655" y="233.12" style="font-size:2.6px;fill:#444" text-anchor="middle">-3</text>
<text x="655" y="240.61" style="font-size:2.6px;fill:#444" text-anchor="middle">-4</text>
<text x="655" y="248.10" style="font-size:2.6px;fill:#444" text-anchor="middle">-5</text>
<text x="678.6" y="209.1" style="font-size:9.6px;letter-spacing:0.45px;fill:#222" text-anchor="middle" transform="rotate(-90 678.6 209.1)">Tvalue</text>
</svg></body></html>
